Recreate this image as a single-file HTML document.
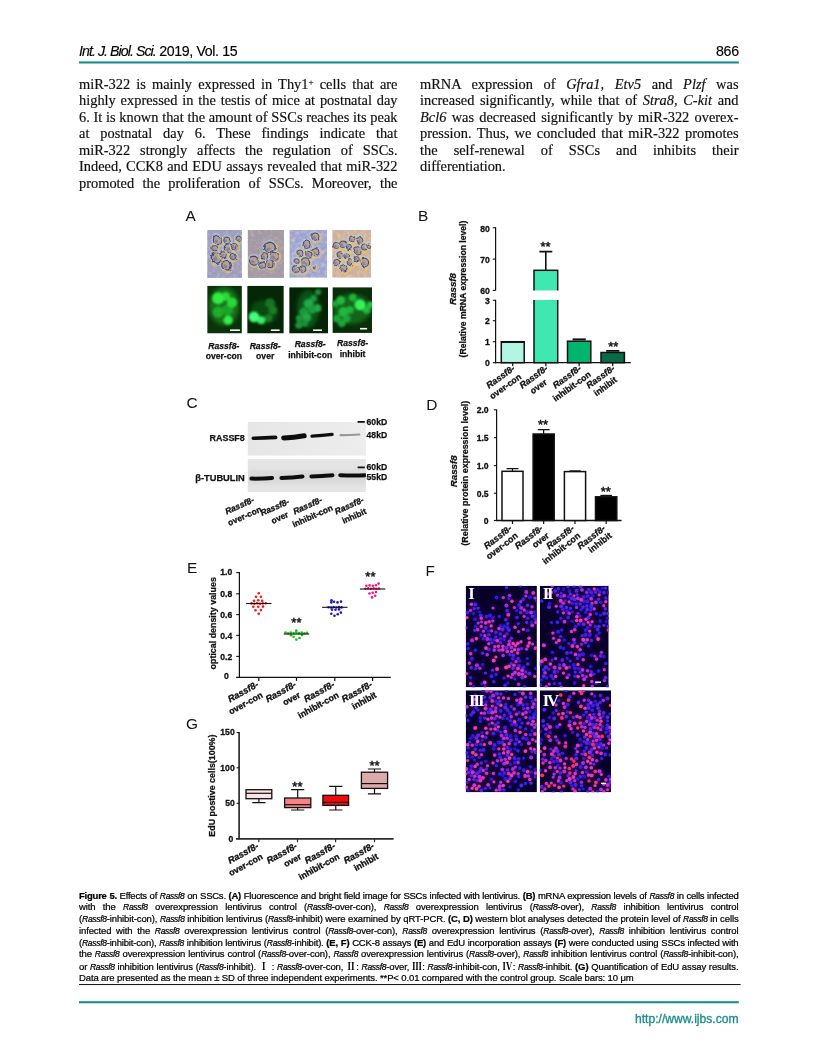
<!DOCTYPE html>
<html lang="en"><head><meta charset="utf-8"><title>Int. J. Biol. Sci. 2019, Vol. 15 - 866</title>
<style>
*{margin:0;padding:0;box-sizing:border-box}
html,body{width:816px;height:1056px;background:#fff;overflow:hidden}
body{position:relative;font-family:"Liberation Serif",serif;color:#111}
.abs{position:absolute}
.hdr{font-family:"Liberation Sans",sans-serif;font-size:14.2px;line-height:16px;color:#000;white-space:nowrap;-webkit-text-stroke:0.15px #000}
#hdrL{letter-spacing:-0.38px}
#hdrL i{letter-spacing:-0.95px}
#hdrR{letter-spacing:-0.3px}
.rule{position:absolute;left:79px;width:660px;height:2px;background:#188d8a}
.col{position:absolute;width:318.5px;font-size:14.4px;line-height:16.55px;color:#111;-webkit-text-stroke:0.18px #111}
.col div{text-align:justify;text-align-last:justify;white-space:nowrap;height:16.55px}
.col div.last{text-align-last:left}
.col sup{font-size:9px;line-height:0;vertical-align:4px}
.cap{position:absolute;left:79px;top:889.5px;width:659.5px;font-family:"Liberation Sans","Noto Serif CJK SC",sans-serif;font-size:9.5px;line-height:11.8px;color:#000;-webkit-text-stroke:0.22px #000}
.cap div{text-align:justify;text-align-last:justify;white-space:nowrap;height:11.8px;letter-spacing:-0.12px}
.cap div.last{text-align-last:left}
.cap b{font-weight:bold}
.cap i{font-size:8.5px;letter-spacing:-0.3px}
.cap .rn{font-family:"Noto Serif CJK SC","Liberation Serif",serif;font-size:10px;font-weight:bold;-webkit-text-stroke:0}
.url{font-family:"Liberation Sans",sans-serif;font-size:12.1px;color:#188d8a;white-space:nowrap;text-align:right;-webkit-text-stroke:0.3px #188d8a}
svg text{font-family:"Liberation Sans",sans-serif}
</style></head>
<body>
<div class="abs hdr" id="hdrL" style="left:79px;top:43px"><i>Int. J. Biol. Sci.</i> 2019, Vol. 15</div>
<div class="abs hdr" id="hdrR" style="right:77.2px;top:43px">866</div>
<div class="col" style="left:79px;top:75.5px">
<div>miR-322 is mainly expressed in Thy1<sup>+</sup> cells that are</div>
<div>highly expressed in the testis of mice at postnatal day</div>
<div>6. It is known that the amount of SSCs reaches its peak</div>
<div>at postnatal day 6. These findings indicate that</div>
<div>miR-322 strongly affects the regulation of SSCs.</div>
<div>Indeed, CCK8 and EDU assays revealed that miR-322</div>
<div>promoted the proliferation of SSCs. Moreover, the</div>
</div>
<div class="col" style="left:420px;top:75.5px">
<div>mRNA expression of <i>Gfra1, Etv5</i> and <i>Plzf</i> was</div>
<div>increased significantly, while that of <i>Stra8, C-kit</i> and</div>
<div><i>Bcl6</i> was decreased significantly by miR-322 overex-</div>
<div>pression. Thus, we concluded that miR-322 promotes</div>
<div>the self-renewal of SSCs and inhibits their</div>
<div class="last">differentiation.</div>
</div>
<div class="cap">
<div style="letter-spacing:-0.23px"><b>Figure 5.</b> Effects of <i>Rassf8</i> on SSCs. <b>(A)</b> Fluorescence and bright field image for SSCs infected with lentivirus. <b>(B)</b> mRNA expression levels of <i>Rassf8</i> in cells infected</div>
<div>with the <i>Rassf8</i> overexpression lentivirus control (<i>Rassf8</i>-over-con), <i>Rassf8</i> overexpression lentivirus (<i>Rassf8</i>-over), <i>Rassf8</i> inhibition lentivirus control</div>
<div>(<i>Rassf8</i>-inhibit-con), <i>Rassf8</i> inhibition lentivirus (<i>Rassf8</i>-inhibit) were examined by qRT-PCR. <b>(C, D)</b> western blot analyses detected the protein level of <i>Rassf8</i> in cells</div>
<div>infected with the <i>Rassf8</i> overexpression lentivirus control (<i>Rassf8</i>-over-con), <i>Rassf8</i> overexpression lentivirus (<i>Rassf8</i>-over), <i>Rassf8</i> inhibition lentivirus control</div>
<div style="letter-spacing:-0.17px">(<i>Rassf8</i>-inhibit-con), <i>Rassf8</i> inhibition lentivirus (<i>Rassf8</i>-inhibit). <b>(E, F)</b> CCK-8 assays <b>(E)</b> and EdU incorporation assays <b>(F)</b> were conducted using SSCs infected with</div>
<div>the <i>Rassf8</i> overexpression lentivirus control (<i>Rassf8</i>-over-con), <i>Rassf8</i> overexpression lentivirus (<i>Rassf8</i>-over), <i>Rassf8</i> inhibition lentivirus control (<i>Rassf8</i>-inhibit-con),</div>
<div>or <i>Rassf8</i> inhibition lentivirus (<i>Rassf8</i>-inhibit). <span class="rn">Ⅰ</span> : <i>Rassf8</i>-over-con, <span class="rn">Ⅱ</span>: <i>Rassf8</i>-over, <span class="rn">Ⅲ</span>: <i>Rassf8</i>-inhibit-con, <span class="rn">Ⅳ</span>: <i>Rassf8</i>-inhibit. <b>(G)</b> Quantification of EdU assay results.</div>
<div class="last">Data are presented as the mean ± SD of three independent experiments. **P&lt; 0.01 compared with the control group. Scale bars: 10 μm</div>
</div>
<div class="abs url" id="url" style="right:77.5px;top:1011px;line-height:16px">http://www.ijbs.com</div>
<svg class="abs" style="left:0;top:0" width="816" height="1056" viewBox="0 0 816 1056">
<g id="defs">
<defs>
<filter id="b04" filterUnits="userSpaceOnUse" x="160" y="200" width="480" height="620"><feGaussianBlur stdDeviation="0.45"/></filter>
<filter id="b07" filterUnits="userSpaceOnUse" x="160" y="200" width="480" height="620"><feGaussianBlur stdDeviation="0.7"/></filter>
<filter id="b12" filterUnits="userSpaceOnUse" x="160" y="200" width="480" height="620"><feGaussianBlur stdDeviation="1.2"/></filter>
<filter id="b20" filterUnits="userSpaceOnUse" x="160" y="200" width="480" height="620"><feGaussianBlur stdDeviation="2"/></filter>
<filter id="grain" x="0" y="0" width="100%" height="100%"><feTurbulence type="fractalNoise" baseFrequency="0.28" numOctaves="3" seed="4" result="n"/><feColorMatrix in="n" type="matrix" values="0 0 0 0 0.3  0 0 0 0 0.3  0 0 0 0 0.62  1.7 1.3 0 0 -1.12"/><feComposite operator="in" in2="SourceGraphic"/></filter>
<filter id="grainw" x="0" y="0" width="100%" height="100%"><feTurbulence type="fractalNoise" baseFrequency="0.24" numOctaves="3" seed="9" result="n"/><feColorMatrix in="n" type="matrix" values="0 0 0 0 0.84  0 0 0 0 0.72  0 0 0 0 0.56  0 1.1 0.9 0 -0.95"/><feComposite operator="in" in2="SourceGraphic"/></filter>
<filter id="org" filterUnits="userSpaceOnUse" x="160" y="200" width="480" height="620"><feTurbulence type="fractalNoise" baseFrequency="0.16" numOctaves="2" seed="3" result="t"/><feDisplacementMap in="SourceGraphic" in2="t" scale="3.2" xChannelSelector="R" yChannelSelector="G"/><feGaussianBlur stdDeviation="0.6"/></filter>
</defs>
</g>
<g id="panelA">
<text x="185.6" y="220.9" font-size="15.4" fill="#111">A</text>
<clipPath id="ca0"><rect x="207.2" y="230" width="34.7" height="47.9"/></clipPath>
<g clip-path="url(#ca0)">
<rect x="207.2" y="230" width="34.7" height="47.9" fill="#a2a3ba"/>
<rect x="207.2" y="230" width="34.7" height="47.9" fill="#5a58a8" filter="url(#grain)" opacity="0.75"/>
<rect x="207.2" y="230" width="34.7" height="47.9" fill="#e8c070" filter="url(#grainw)" opacity="0.55"/>
<g filter="url(#org)"><circle cx="218.4" cy="241.4" r="5.3" fill="none" stroke="#ecc45a" stroke-width="1.5" opacity="0.7"/><circle cx="216.9" cy="239.6" r="5.2" fill="none" stroke="#a9dcee" stroke-width="1.0" opacity="0.6"/><circle cx="217.6" cy="240.4" r="4.2" fill="#ada19c" stroke="#45417f" stroke-width="1.06"/><circle cx="216.5" cy="241.28" r="1.76" fill="#5f5688" opacity="0.4"/><circle cx="218.7" cy="239.74" r="1.45" fill="#c8a772" opacity="0.6"/><circle cx="227.8" cy="241.4" r="4.4" fill="none" stroke="#ecc45a" stroke-width="1.5" opacity="0.7"/><circle cx="226.3" cy="239.6" r="4.3" fill="none" stroke="#a9dcee" stroke-width="1.0" opacity="0.6"/><circle cx="227" cy="240.4" r="3.3" fill="#ada19c" stroke="#45417f" stroke-width="0.9"/><circle cx="226.12" cy="241.1" r="1.4" fill="#5f5688" opacity="0.4"/><circle cx="227.88" cy="239.88" r="1.16" fill="#c8a772" opacity="0.6"/><circle cx="229.5" cy="249.2" r="5.5" fill="none" stroke="#ecc45a" stroke-width="1.5" opacity="0.7"/><circle cx="228" cy="247.4" r="5.4" fill="none" stroke="#a9dcee" stroke-width="1.0" opacity="0.6"/><circle cx="228.7" cy="248.2" r="4.4" fill="#ada19c" stroke="#45417f" stroke-width="1.1"/><circle cx="227.55" cy="249.12" r="1.84" fill="#5f5688" opacity="0.4"/><circle cx="229.85" cy="247.51" r="1.52" fill="#c8a772" opacity="0.6"/><circle cx="217.3" cy="259" r="6.4" fill="none" stroke="#ecc45a" stroke-width="1.5" opacity="0.7"/><circle cx="215.8" cy="257.2" r="6.3" fill="none" stroke="#a9dcee" stroke-width="1.0" opacity="0.6"/><circle cx="216.5" cy="258" r="5.3" fill="#ada19c" stroke="#45417f" stroke-width="1.32"/><circle cx="215.12" cy="259.1" r="2.2" fill="#5f5688" opacity="0.4"/><circle cx="217.88" cy="257.18" r="1.82" fill="#c8a772" opacity="0.6"/><circle cx="227.3" cy="266.2" r="5.9" fill="none" stroke="#ecc45a" stroke-width="1.5" opacity="0.7"/><circle cx="225.8" cy="264.4" r="5.8" fill="none" stroke="#a9dcee" stroke-width="1.0" opacity="0.6"/><circle cx="226.5" cy="265.2" r="4.8" fill="#ada19c" stroke="#45417f" stroke-width="1.2"/><circle cx="225.25" cy="266.2" r="2" fill="#5f5688" opacity="0.4"/><circle cx="227.75" cy="264.45" r="1.65" fill="#c8a772" opacity="0.6"/><circle cx="235" cy="247.5" r="4.2" fill="none" stroke="#ecc45a" stroke-width="1.5" opacity="0.7"/><circle cx="233.5" cy="245.7" r="4.1" fill="none" stroke="#a9dcee" stroke-width="1.0" opacity="0.6"/><circle cx="234.2" cy="246.5" r="3.1" fill="#ada19c" stroke="#45417f" stroke-width="0.9"/><circle cx="233.38" cy="247.16" r="1.32" fill="#5f5688" opacity="0.4"/><circle cx="235.02" cy="246" r="1.09" fill="#c8a772" opacity="0.6"/><circle cx="233.8" cy="257.4" r="4.2" fill="none" stroke="#ecc45a" stroke-width="1.5" opacity="0.7"/><circle cx="232.3" cy="255.6" r="4.1" fill="none" stroke="#a9dcee" stroke-width="1.0" opacity="0.6"/><circle cx="233" cy="256.4" r="3.1" fill="#ada19c" stroke="#45417f" stroke-width="0.9"/><circle cx="232.18" cy="257.06" r="1.32" fill="#5f5688" opacity="0.4"/><circle cx="233.82" cy="255.9" r="1.09" fill="#c8a772" opacity="0.6"/><circle cx="239.4" cy="239.8" r="3.7" fill="none" stroke="#ecc45a" stroke-width="1.5" opacity="0.7"/><circle cx="237.9" cy="238" r="3.6" fill="none" stroke="#a9dcee" stroke-width="1.0" opacity="0.6"/><circle cx="238.6" cy="238.8" r="2.6" fill="#ada19c" stroke="#45417f" stroke-width="0.9"/><circle cx="237.9" cy="239.36" r="1.12" fill="#5f5688" opacity="0.4"/><circle cx="239.3" cy="238.38" r="0.92" fill="#c8a772" opacity="0.6"/><circle cx="215.1" cy="249.2" r="3.7" fill="none" stroke="#ecc45a" stroke-width="1.5" opacity="0.7"/><circle cx="213.6" cy="247.4" r="3.6" fill="none" stroke="#a9dcee" stroke-width="1.0" opacity="0.6"/><circle cx="214.3" cy="248.2" r="2.6" fill="#ada19c" stroke="#45417f" stroke-width="0.9"/><circle cx="213.6" cy="248.76" r="1.12" fill="#5f5688" opacity="0.4"/><circle cx="215" cy="247.78" r="0.92" fill="#c8a772" opacity="0.6"/><circle cx="224" cy="255.8" r="4.2" fill="none" stroke="#ecc45a" stroke-width="1.5" opacity="0.7"/><circle cx="222.5" cy="254" r="4.1" fill="none" stroke="#a9dcee" stroke-width="1.0" opacity="0.6"/><circle cx="223.2" cy="254.8" r="3.1" fill="#ada19c" stroke="#45417f" stroke-width="0.9"/><circle cx="222.38" cy="255.46" r="1.32" fill="#5f5688" opacity="0.4"/><circle cx="224.02" cy="254.31" r="1.09" fill="#c8a772" opacity="0.6"/></g>
</g>
<clipPath id="ca1"><rect x="247.6" y="230" width="36.4" height="47.9"/></clipPath>
<g clip-path="url(#ca1)">
<rect x="247.6" y="230" width="36.4" height="47.9" fill="#a79c9f"/>
<rect x="247.6" y="230" width="36.4" height="47.9" fill="#5a58a8" filter="url(#grain)" opacity="0.4"/>
<rect x="247.6" y="230" width="36.4" height="47.9" fill="#e8c070" filter="url(#grainw)" opacity="0.5"/>
<g filter="url(#org)"><circle cx="270.8" cy="248.6" r="6.4" fill="none" stroke="#ecc45a" stroke-width="1.5" opacity="0.7"/><circle cx="269.3" cy="246.8" r="6.3" fill="none" stroke="#a9dcee" stroke-width="1.0" opacity="0.6"/><circle cx="270" cy="247.6" r="5.3" fill="#ada19c" stroke="#45417f" stroke-width="1.32"/><circle cx="268.62" cy="248.7" r="2.2" fill="#5f5688" opacity="0.4"/><circle cx="271.38" cy="246.78" r="1.82" fill="#c8a772" opacity="0.6"/><circle cx="265.3" cy="256.9" r="4.4" fill="none" stroke="#ecc45a" stroke-width="1.5" opacity="0.7"/><circle cx="263.8" cy="255.1" r="4.3" fill="none" stroke="#a9dcee" stroke-width="1.0" opacity="0.6"/><circle cx="264.5" cy="255.9" r="3.3" fill="#ada19c" stroke="#45417f" stroke-width="0.9"/><circle cx="263.62" cy="256.6" r="1.4" fill="#5f5688" opacity="0.4"/><circle cx="265.38" cy="255.38" r="1.16" fill="#c8a772" opacity="0.6"/><circle cx="254.8" cy="261.8" r="5.5" fill="none" stroke="#ecc45a" stroke-width="1.5" opacity="0.7"/><circle cx="253.3" cy="260" r="5.4" fill="none" stroke="#a9dcee" stroke-width="1.0" opacity="0.6"/><circle cx="254" cy="260.8" r="4.4" fill="#ada19c" stroke="#45417f" stroke-width="1.1"/><circle cx="252.85" cy="261.72" r="1.84" fill="#5f5688" opacity="0.4"/><circle cx="255.15" cy="260.11" r="1.52" fill="#c8a772" opacity="0.6"/><circle cx="275.2" cy="257.4" r="5.1" fill="none" stroke="#ecc45a" stroke-width="1.5" opacity="0.7"/><circle cx="273.7" cy="255.6" r="5" fill="none" stroke="#a9dcee" stroke-width="1.0" opacity="0.6"/><circle cx="274.4" cy="256.4" r="4" fill="#ada19c" stroke="#45417f" stroke-width="1.01"/><circle cx="273.35" cy="257.24" r="1.68" fill="#5f5688" opacity="0.4"/><circle cx="275.45" cy="255.77" r="1.39" fill="#c8a772" opacity="0.6"/><circle cx="270.8" cy="264.6" r="5.1" fill="none" stroke="#ecc45a" stroke-width="1.5" opacity="0.7"/><circle cx="269.3" cy="262.8" r="5" fill="none" stroke="#a9dcee" stroke-width="1.0" opacity="0.6"/><circle cx="270" cy="263.6" r="4" fill="#ada19c" stroke="#45417f" stroke-width="1.01"/><circle cx="268.95" cy="264.44" r="1.68" fill="#5f5688" opacity="0.4"/><circle cx="271.05" cy="262.97" r="1.39" fill="#c8a772" opacity="0.6"/><circle cx="262.5" cy="266.2" r="4.2" fill="none" stroke="#ecc45a" stroke-width="1.5" opacity="0.7"/><circle cx="261" cy="264.4" r="4.1" fill="none" stroke="#a9dcee" stroke-width="1.0" opacity="0.6"/><circle cx="261.7" cy="265.2" r="3.1" fill="#ada19c" stroke="#45417f" stroke-width="0.9"/><circle cx="260.88" cy="265.86" r="1.32" fill="#5f5688" opacity="0.4"/><circle cx="262.52" cy="264.7" r="1.09" fill="#c8a772" opacity="0.6"/></g>
</g>
<clipPath id="ca2"><rect x="289.4" y="230" width="37.7" height="47.7"/></clipPath>
<g clip-path="url(#ca2)">
<rect x="289.4" y="230" width="37.7" height="47.7" fill="#a8b0d4"/>
<rect x="289.4" y="230" width="37.7" height="47.7" fill="#5a58a8" filter="url(#grain)" opacity="0.8"/>
<rect x="289.4" y="230" width="37.7" height="47.7" fill="#e8c070" filter="url(#grainw)" opacity="0.75"/>
<g filter="url(#org)"><circle cx="316.1" cy="237.6" r="4.8" fill="none" stroke="#ecc45a" stroke-width="1.5" opacity="0.7"/><circle cx="314.6" cy="235.8" r="4.7" fill="none" stroke="#a9dcee" stroke-width="1.0" opacity="0.6"/><circle cx="315.3" cy="236.6" r="3.7" fill="#ada19c" stroke="#45417f" stroke-width="0.94"/><circle cx="314.32" cy="237.38" r="1.56" fill="#5f5688" opacity="0.4"/><circle cx="316.28" cy="236.01" r="1.29" fill="#c8a772" opacity="0.6"/><circle cx="307.3" cy="245.8" r="4.8" fill="none" stroke="#ecc45a" stroke-width="1.5" opacity="0.7"/><circle cx="305.8" cy="244" r="4.7" fill="none" stroke="#a9dcee" stroke-width="1.0" opacity="0.6"/><circle cx="306.5" cy="244.8" r="3.7" fill="#ada19c" stroke="#45417f" stroke-width="0.94"/><circle cx="305.52" cy="245.58" r="1.56" fill="#5f5688" opacity="0.4"/><circle cx="307.48" cy="244.22" r="1.29" fill="#c8a772" opacity="0.6"/><circle cx="316.1" cy="253" r="4.8" fill="none" stroke="#ecc45a" stroke-width="1.5" opacity="0.7"/><circle cx="314.6" cy="251.2" r="4.7" fill="none" stroke="#a9dcee" stroke-width="1.0" opacity="0.6"/><circle cx="315.3" cy="252" r="3.7" fill="#ada19c" stroke="#45417f" stroke-width="0.94"/><circle cx="314.32" cy="252.78" r="1.56" fill="#5f5688" opacity="0.4"/><circle cx="316.28" cy="251.41" r="1.29" fill="#c8a772" opacity="0.6"/><circle cx="300.7" cy="254.1" r="4.2" fill="none" stroke="#ecc45a" stroke-width="1.5" opacity="0.7"/><circle cx="299.2" cy="252.3" r="4.1" fill="none" stroke="#a9dcee" stroke-width="1.0" opacity="0.6"/><circle cx="299.9" cy="253.1" r="3.1" fill="#ada19c" stroke="#45417f" stroke-width="0.9"/><circle cx="299.07" cy="253.76" r="1.32" fill="#5f5688" opacity="0.4"/><circle cx="300.72" cy="252.6" r="1.09" fill="#c8a772" opacity="0.6"/><circle cx="309.5" cy="255.2" r="4.2" fill="none" stroke="#ecc45a" stroke-width="1.5" opacity="0.7"/><circle cx="308" cy="253.4" r="4.1" fill="none" stroke="#a9dcee" stroke-width="1.0" opacity="0.6"/><circle cx="308.7" cy="254.2" r="3.1" fill="#ada19c" stroke="#45417f" stroke-width="0.9"/><circle cx="307.88" cy="254.86" r="1.32" fill="#5f5688" opacity="0.4"/><circle cx="309.52" cy="253.7" r="1.09" fill="#c8a772" opacity="0.6"/><circle cx="306.2" cy="262.9" r="5.3" fill="none" stroke="#ecc45a" stroke-width="1.5" opacity="0.7"/><circle cx="304.7" cy="261.1" r="5.2" fill="none" stroke="#a9dcee" stroke-width="1.0" opacity="0.6"/><circle cx="305.4" cy="261.9" r="4.2" fill="#ada19c" stroke="#45417f" stroke-width="1.06"/><circle cx="304.3" cy="262.78" r="1.76" fill="#5f5688" opacity="0.4"/><circle cx="306.5" cy="261.24" r="1.45" fill="#c8a772" opacity="0.6"/><circle cx="297.4" cy="262.4" r="3.7" fill="none" stroke="#ecc45a" stroke-width="1.5" opacity="0.7"/><circle cx="295.9" cy="260.6" r="3.6" fill="none" stroke="#a9dcee" stroke-width="1.0" opacity="0.6"/><circle cx="296.6" cy="261.4" r="2.6" fill="#ada19c" stroke="#45417f" stroke-width="0.9"/><circle cx="295.9" cy="261.96" r="1.12" fill="#5f5688" opacity="0.4"/><circle cx="297.3" cy="260.98" r="0.92" fill="#c8a772" opacity="0.6"/><circle cx="296.3" cy="270.1" r="4.4" fill="none" stroke="#ecc45a" stroke-width="1.5" opacity="0.7"/><circle cx="294.8" cy="268.3" r="4.3" fill="none" stroke="#a9dcee" stroke-width="1.0" opacity="0.6"/><circle cx="295.5" cy="269.1" r="3.3" fill="#ada19c" stroke="#45417f" stroke-width="0.9"/><circle cx="294.62" cy="269.8" r="1.4" fill="#5f5688" opacity="0.4"/><circle cx="296.38" cy="268.58" r="1.16" fill="#c8a772" opacity="0.6"/><circle cx="303.4" cy="270.1" r="4.4" fill="none" stroke="#ecc45a" stroke-width="1.5" opacity="0.7"/><circle cx="301.9" cy="268.3" r="4.3" fill="none" stroke="#a9dcee" stroke-width="1.0" opacity="0.6"/><circle cx="302.6" cy="269.1" r="3.3" fill="#ada19c" stroke="#45417f" stroke-width="0.9"/><circle cx="301.73" cy="269.8" r="1.4" fill="#5f5688" opacity="0.4"/><circle cx="303.48" cy="268.58" r="1.16" fill="#c8a772" opacity="0.6"/><circle cx="315" cy="269" r="2.1" fill="none" stroke="#ecc45a" stroke-width="1.5" opacity="0.7"/><circle cx="313.5" cy="267.2" r="2" fill="none" stroke="#a9dcee" stroke-width="1.0" opacity="0.6"/><circle cx="314.2" cy="268" r="1" fill="#ada19c" stroke="#45417f" stroke-width="0.9"/><circle cx="313.9" cy="268.24" r="0.48" fill="#5f5688" opacity="0.4"/><circle cx="314.5" cy="267.82" r="0.4" fill="#c8a772" opacity="0.6"/></g>
</g>
<clipPath id="ca3"><rect x="332.2" y="230" width="38.8" height="47.7"/></clipPath>
<g clip-path="url(#ca3)">
<rect x="332.2" y="230" width="38.8" height="47.7" fill="#d8b698"/>
<rect x="332.2" y="230" width="38.8" height="47.7" fill="#5a58a8" filter="url(#grain)" opacity="0.3"/>
<rect x="332.2" y="230" width="38.8" height="47.7" fill="#e8c070" filter="url(#grainw)" opacity="0.9"/>
<g filter="url(#org)"><circle cx="337.1" cy="246.4" r="4.2" fill="none" stroke="#ecc45a" stroke-width="1.5" opacity="0.7"/><circle cx="335.6" cy="244.6" r="4.1" fill="none" stroke="#a9dcee" stroke-width="1.0" opacity="0.6"/><circle cx="336.3" cy="245.4" r="3.1" fill="#ada19c" stroke="#45417f" stroke-width="0.9"/><circle cx="335.48" cy="246.06" r="1.32" fill="#5f5688" opacity="0.4"/><circle cx="337.12" cy="244.91" r="1.09" fill="#c8a772" opacity="0.6"/><circle cx="343.7" cy="245.3" r="4.4" fill="none" stroke="#ecc45a" stroke-width="1.5" opacity="0.7"/><circle cx="342.2" cy="243.5" r="4.3" fill="none" stroke="#a9dcee" stroke-width="1.0" opacity="0.6"/><circle cx="342.9" cy="244.3" r="3.3" fill="#ada19c" stroke="#45417f" stroke-width="0.9"/><circle cx="342.02" cy="245" r="1.4" fill="#5f5688" opacity="0.4"/><circle cx="343.77" cy="243.78" r="1.16" fill="#c8a772" opacity="0.6"/><circle cx="353.1" cy="239.8" r="4" fill="none" stroke="#ecc45a" stroke-width="1.5" opacity="0.7"/><circle cx="351.6" cy="238" r="3.9" fill="none" stroke="#a9dcee" stroke-width="1.0" opacity="0.6"/><circle cx="352.3" cy="238.8" r="2.9" fill="#ada19c" stroke="#45417f" stroke-width="0.9"/><circle cx="351.53" cy="239.42" r="1.24" fill="#5f5688" opacity="0.4"/><circle cx="353.07" cy="238.34" r="1.02" fill="#c8a772" opacity="0.6"/><circle cx="360.8" cy="241.4" r="4" fill="none" stroke="#ecc45a" stroke-width="1.5" opacity="0.7"/><circle cx="359.3" cy="239.6" r="3.9" fill="none" stroke="#a9dcee" stroke-width="1.0" opacity="0.6"/><circle cx="360" cy="240.4" r="2.9" fill="#ada19c" stroke="#45417f" stroke-width="0.9"/><circle cx="359.23" cy="241.02" r="1.24" fill="#5f5688" opacity="0.4"/><circle cx="360.77" cy="239.94" r="1.02" fill="#c8a772" opacity="0.6"/><circle cx="349.8" cy="248" r="3.7" fill="none" stroke="#ecc45a" stroke-width="1.5" opacity="0.7"/><circle cx="348.3" cy="246.2" r="3.6" fill="none" stroke="#a9dcee" stroke-width="1.0" opacity="0.6"/><circle cx="349" cy="247" r="2.6" fill="#ada19c" stroke="#45417f" stroke-width="0.9"/><circle cx="348.3" cy="247.56" r="1.12" fill="#5f5688" opacity="0.4"/><circle cx="349.7" cy="246.58" r="0.92" fill="#c8a772" opacity="0.6"/><circle cx="358.6" cy="251.4" r="4.8" fill="none" stroke="#ecc45a" stroke-width="1.5" opacity="0.7"/><circle cx="357.1" cy="249.6" r="4.7" fill="none" stroke="#a9dcee" stroke-width="1.0" opacity="0.6"/><circle cx="357.8" cy="250.4" r="3.7" fill="#ada19c" stroke="#45417f" stroke-width="0.94"/><circle cx="356.82" cy="251.18" r="1.56" fill="#5f5688" opacity="0.4"/><circle cx="358.78" cy="249.81" r="1.29" fill="#c8a772" opacity="0.6"/><circle cx="365.2" cy="248" r="4.2" fill="none" stroke="#ecc45a" stroke-width="1.5" opacity="0.7"/><circle cx="363.7" cy="246.2" r="4.1" fill="none" stroke="#a9dcee" stroke-width="1.0" opacity="0.6"/><circle cx="364.4" cy="247" r="3.1" fill="#ada19c" stroke="#45417f" stroke-width="0.9"/><circle cx="363.57" cy="247.66" r="1.32" fill="#5f5688" opacity="0.4"/><circle cx="365.22" cy="246.5" r="1.09" fill="#c8a772" opacity="0.6"/><circle cx="340.9" cy="255.8" r="4.2" fill="none" stroke="#ecc45a" stroke-width="1.5" opacity="0.7"/><circle cx="339.4" cy="254" r="4.1" fill="none" stroke="#a9dcee" stroke-width="1.0" opacity="0.6"/><circle cx="340.1" cy="254.8" r="3.1" fill="#ada19c" stroke="#45417f" stroke-width="0.9"/><circle cx="339.28" cy="255.46" r="1.32" fill="#5f5688" opacity="0.4"/><circle cx="340.93" cy="254.31" r="1.09" fill="#c8a772" opacity="0.6"/><circle cx="347.5" cy="256.9" r="4" fill="none" stroke="#ecc45a" stroke-width="1.5" opacity="0.7"/><circle cx="346" cy="255.1" r="3.9" fill="none" stroke="#a9dcee" stroke-width="1.0" opacity="0.6"/><circle cx="346.7" cy="255.9" r="2.9" fill="#ada19c" stroke="#45417f" stroke-width="0.9"/><circle cx="345.93" cy="256.52" r="1.24" fill="#5f5688" opacity="0.4"/><circle cx="347.47" cy="255.44" r="1.02" fill="#c8a772" opacity="0.6"/><circle cx="337.6" cy="263.5" r="4.2" fill="none" stroke="#ecc45a" stroke-width="1.5" opacity="0.7"/><circle cx="336.1" cy="261.7" r="4.1" fill="none" stroke="#a9dcee" stroke-width="1.0" opacity="0.6"/><circle cx="336.8" cy="262.5" r="3.1" fill="#ada19c" stroke="#45417f" stroke-width="0.9"/><circle cx="335.98" cy="263.16" r="1.32" fill="#5f5688" opacity="0.4"/><circle cx="337.62" cy="262" r="1.09" fill="#c8a772" opacity="0.6"/><circle cx="350.8" cy="263.5" r="4" fill="none" stroke="#ecc45a" stroke-width="1.5" opacity="0.7"/><circle cx="349.3" cy="261.7" r="3.9" fill="none" stroke="#a9dcee" stroke-width="1.0" opacity="0.6"/><circle cx="350" cy="262.5" r="2.9" fill="#ada19c" stroke="#45417f" stroke-width="0.9"/><circle cx="349.23" cy="263.12" r="1.24" fill="#5f5688" opacity="0.4"/><circle cx="350.77" cy="262.04" r="1.02" fill="#c8a772" opacity="0.6"/><circle cx="344.2" cy="269.5" r="4.8" fill="none" stroke="#ecc45a" stroke-width="1.5" opacity="0.7"/><circle cx="342.7" cy="267.7" r="4.7" fill="none" stroke="#a9dcee" stroke-width="1.0" opacity="0.6"/><circle cx="343.4" cy="268.5" r="3.7" fill="#ada19c" stroke="#45417f" stroke-width="0.94"/><circle cx="342.42" cy="269.28" r="1.56" fill="#5f5688" opacity="0.4"/><circle cx="344.38" cy="267.92" r="1.29" fill="#c8a772" opacity="0.6"/><circle cx="365.2" cy="263.5" r="5.3" fill="none" stroke="#ecc45a" stroke-width="1.5" opacity="0.7"/><circle cx="363.7" cy="261.7" r="5.2" fill="none" stroke="#a9dcee" stroke-width="1.0" opacity="0.6"/><circle cx="364.4" cy="262.5" r="4.2" fill="#ada19c" stroke="#45417f" stroke-width="1.06"/><circle cx="363.3" cy="263.38" r="1.76" fill="#5f5688" opacity="0.4"/><circle cx="365.5" cy="261.84" r="1.45" fill="#c8a772" opacity="0.6"/><circle cx="357.5" cy="260.2" r="3.7" fill="none" stroke="#ecc45a" stroke-width="1.5" opacity="0.7"/><circle cx="356" cy="258.4" r="3.6" fill="none" stroke="#a9dcee" stroke-width="1.0" opacity="0.6"/><circle cx="356.7" cy="259.2" r="2.6" fill="#ada19c" stroke="#45417f" stroke-width="0.9"/><circle cx="356" cy="259.76" r="1.12" fill="#5f5688" opacity="0.4"/><circle cx="357.4" cy="258.78" r="0.92" fill="#c8a772" opacity="0.6"/><circle cx="369.6" cy="247" r="3.1" fill="none" stroke="#ecc45a" stroke-width="1.5" opacity="0.7"/><circle cx="368.1" cy="245.2" r="3" fill="none" stroke="#a9dcee" stroke-width="1.0" opacity="0.6"/><circle cx="368.8" cy="246" r="2" fill="#ada19c" stroke="#45417f" stroke-width="0.9"/><circle cx="368.25" cy="246.44" r="0.88" fill="#5f5688" opacity="0.4"/><circle cx="369.35" cy="245.67" r="0.73" fill="#c8a772" opacity="0.6"/></g>
</g>
<clipPath id="cg0"><rect x="207.2" y="285.7" width="34.7" height="47.8"/></clipPath>
<g clip-path="url(#cg0)">
<rect x="207.2" y="285.7" width="34.7" height="47.8" fill="#0b330b"/>
<ellipse cx="224" cy="306" rx="15" ry="19" fill="#1c8a22" opacity="0.75" filter="url(#b20)"/>
<g filter="url(#b12)"><circle cx="218.2" cy="312" r="5.5" fill="#22ac2c"/><circle cx="227.6" cy="309.8" r="5.5" fill="#1fa428"/><circle cx="225.9" cy="296.5" r="4.4" fill="#2bd83a"/><circle cx="232" cy="302.6" r="5" fill="#2ad83a"/><circle cx="218.2" cy="298.2" r="6" fill="#33ec44"/><circle cx="228.1" cy="320.2" r="4.6" fill="#35ee46"/></g>
<rect x="230" y="329.4" width="9.9" height="1.6" fill="#fff"/>
</g>
<clipPath id="cg1"><rect x="247.2" y="285.7" width="36.6" height="47.8"/></clipPath>
<g clip-path="url(#cg1)">
<rect x="247.2" y="285.7" width="36.6" height="47.8" fill="#062706"/>
<ellipse cx="264" cy="312" rx="14" ry="12" fill="#0f5a16" opacity="0.7" filter="url(#b20)"/>
<g filter="url(#b12)"><circle cx="270" cy="303.2" r="5" fill="#187424"/><circle cx="272.8" cy="310.3" r="4.2" fill="#1a7c26"/><circle cx="268.4" cy="318" r="3.9" fill="#1b7a24"/><circle cx="261.2" cy="320.2" r="3.9" fill="#3aec62"/><circle cx="254" cy="316.9" r="5.3" fill="#44fa7c"/></g>
<rect x="270.8" y="329.4" width="8.8" height="1.6" fill="#fff"/>
</g>
<clipPath id="cg2"><rect x="289.2" y="287.2" width="38.8" height="46.3"/></clipPath>
<g clip-path="url(#cg2)">
<rect x="289.2" y="287.2" width="38.8" height="46.3" fill="#052405"/>
<ellipse cx="308" cy="309" rx="11" ry="19" fill="#116a22" opacity="0.7" filter="url(#b20)"/>
<g filter="url(#b12)"><circle cx="318.1" cy="292.1" r="3.1" fill="#1c8e38"/><circle cx="313.7" cy="298.2" r="3.3" fill="#1e9a3c"/><circle cx="308.7" cy="303.7" r="5" fill="#22a844"/><circle cx="317.5" cy="308.1" r="3.9" fill="#22a844"/><circle cx="312" cy="309.8" r="3.9" fill="#1f9c3e"/><circle cx="303.7" cy="312" r="4.4" fill="#1f9c3e"/><circle cx="307" cy="317.5" r="4.4" fill="#22a844"/><circle cx="299.3" cy="318.6" r="3.5" fill="#1e963a"/><circle cx="298.8" cy="325.2" r="3.5" fill="#1e963a"/><circle cx="304.8" cy="323.5" r="3.3" fill="#1c8e38"/></g>
<rect x="313.1" y="329.4" width="8.8" height="1.6" fill="#fff"/>
</g>
<clipPath id="cg3"><rect x="332.4" y="287.2" width="39.7" height="45.7"/></clipPath>
<g clip-path="url(#cg3)">
<rect x="332.4" y="287.2" width="39.7" height="45.7" fill="#0a2e0a"/>
<ellipse cx="352" cy="309" rx="19" ry="15" fill="#157a22" opacity="0.75" filter="url(#b20)"/>
<g filter="url(#b12)"><circle cx="340.7" cy="300.4" r="4.4" fill="#24b83e"/><circle cx="352.8" cy="297.6" r="3.9" fill="#22b03a"/><circle cx="366.6" cy="309.8" r="3.9" fill="#24b83e"/><circle cx="343.4" cy="312" r="5" fill="#24b83e"/><circle cx="350" cy="309.8" r="3.9" fill="#22b03a"/><circle cx="336.8" cy="318.6" r="3.9" fill="#1fa636"/><circle cx="346.7" cy="318.6" r="3.9" fill="#1fa636"/><circle cx="341.8" cy="323" r="3.9" fill="#1fa636"/><circle cx="370.4" cy="304.8" r="3.3" fill="#27c242"/><circle cx="335.2" cy="303.7" r="3.3" fill="#1fa636"/><circle cx="360" cy="304.8" r="5.5" fill="#34f254"/></g>
<rect x="360" y="327.9" width="7.1" height="1.6" fill="#fff"/>
</g>
<text text-anchor="middle" font-weight="bold" font-size="8.6" fill="#111" stroke="#111" stroke-width="0.25"><tspan x="223.8" y="349" font-style="italic">Rassf8-</tspan><tspan x="223.8" y="358.9">over-con</tspan></text>
<text text-anchor="middle" font-weight="bold" font-size="8.6" fill="#111" stroke="#111" stroke-width="0.25"><tspan x="265.2" y="349" font-style="italic">Rassf8-</tspan><tspan x="265.2" y="358.9">over</tspan></text>
<text text-anchor="middle" font-weight="bold" font-size="8.6" fill="#111" stroke="#111" stroke-width="0.25"><tspan x="310.2" y="346.6" font-style="italic">Rassf8-</tspan><tspan x="310.2" y="357.6">inhibit-con</tspan></text>
<text text-anchor="middle" font-weight="bold" font-size="8.6" fill="#111" stroke="#111" stroke-width="0.25"><tspan x="352.6" y="346.4" font-style="italic">Rassf8-</tspan><tspan x="352.6" y="357">inhibit</tspan></text>
</g>
<g id="panelC">
<text x="186.4" y="407.6" font-size="15.4" fill="#111">C</text>
<linearGradient id="gc1" x1="0" x2="1" y1="0" y2="0"><stop offset="0" stop-color="#e6e6e6"/><stop offset="1" stop-color="#ededed"/></linearGradient>
<rect x="247.8" y="421.9" width="118.1" height="33.7" fill="url(#gc1)"/>
<rect x="247.8" y="459.1" width="118.1" height="32.9" fill="#e5e5e5"/>
<clipPath id="cc1"><rect x="247.8" y="421.9" width="118.1" height="33.7"/></clipPath><clipPath id="cc2"><rect x="247.8" y="459.1" width="118.1" height="32.9"/></clipPath>
<g clip-path="url(#cc1)"><g filter="url(#b07)">
<path d="M253.28 438.2Q264.45 438.23 275.62 437.4" stroke="#111" stroke-width="3.6" stroke-linecap="round" fill="none" opacity="1"/>
<path d="M283.73 438Q293.95 437.51 304.17 435.8" stroke="#111" stroke-width="5.1" stroke-linecap="round" fill="none" opacity="1"/>
<path d="M311.96 436.2Q322.05 435.68 332.14 434.4" stroke="#111" stroke-width="3.2" stroke-linecap="round" fill="none" opacity="1"/>
<path d="M340.66 435.2Q350 435.11 359.34 434.5" stroke="#8a8a8a" stroke-width="2.2" stroke-linecap="round" fill="none" opacity="0.85"/>
</g></g>
<g clip-path="url(#cc2)"><rect x="247.8" y="470" width="118.1" height="14" fill="#bdbdbd" opacity="0.3" filter="url(#b20)"/><g filter="url(#b07)">
<path d="M251.4 478.6Q261.75 478.78 272.1 478" stroke="#111" stroke-width="4" stroke-linecap="round" fill="none" opacity="1"/>
<path d="M281.4 478Q291.95 477.68 302.5 476.4" stroke="#111" stroke-width="4" stroke-linecap="round" fill="none" opacity="1"/>
<path d="M311.4 476.4Q321.95 476.28 332.5 475.2" stroke="#111" stroke-width="4" stroke-linecap="round" fill="none" opacity="1"/>
<path d="M340.2 475.2Q352.75 475.68 365.3 475.2" stroke="#111" stroke-width="4" stroke-linecap="round" fill="none" opacity="1"/>
</g></g>
<text x="244.8" y="441.2" text-anchor="end" font-size="8.95" font-weight="bold" fill="#111" stroke="#111" stroke-width="0.25">RASSF8</text>
<text x="244.8" y="481.2" text-anchor="end" font-size="9.3" font-weight="bold" fill="#111" stroke="#111" stroke-width="0.25">β-TUBULIN</text>
<rect x="357.6" y="421.0" width="7.2" height="1.8" fill="#111"/>
<rect x="357.6" y="466.5" width="7.2" height="1.8" fill="#111"/>
<text x="366.6" y="424.6" text-anchor="start" font-size="8.6" font-weight="bold" fill="#111" stroke="#111" stroke-width="0.25">60kD</text>
<text x="366.6" y="437.8" text-anchor="start" font-size="8.6" font-weight="bold" fill="#111" stroke="#111" stroke-width="0.25">48kD</text>
<text x="366.6" y="470.3" text-anchor="start" font-size="8.6" font-weight="bold" fill="#111" stroke="#111" stroke-width="0.25">60kD</text>
<text x="366.6" y="479.5" text-anchor="start" font-size="8.6" font-weight="bold" fill="#111" stroke="#111" stroke-width="0.25">55kD</text>
<g transform="translate(253.6,499.4) rotate(-24)"><text text-anchor="middle" font-weight="bold" fill="#111" stroke="#111" stroke-width="0.3"><tspan x="-15.35" y="2.8" font-size="8.5" font-style="italic">Rassf8-</tspan><tspan x="-15" y="14.4" font-size="8.5">over-con</tspan></text></g>
<g transform="translate(288.8,501) rotate(-24)"><text text-anchor="middle" font-weight="bold" fill="#111" stroke="#111" stroke-width="0.3"><tspan x="-15.35" y="2.8" font-size="8.5" font-style="italic">Rassf8-</tspan><tspan x="-15" y="14.4" font-size="8.5">over</tspan></text></g>
<g transform="translate(321.6,499.4) rotate(-24)"><text text-anchor="middle" font-weight="bold" fill="#111" stroke="#111" stroke-width="0.3"><tspan x="-15.35" y="2.8" font-size="8.5" font-style="italic">Rassf8-</tspan><tspan x="-15" y="14.4" font-size="8.5">inhibit-con</tspan></text></g>
<g transform="translate(363.2,499.4) rotate(-24)"><text text-anchor="middle" font-weight="bold" fill="#111" stroke="#111" stroke-width="0.3"><tspan x="-15.35" y="2.8" font-size="8.5" font-style="italic">Rassf8-</tspan><tspan x="-15" y="14.4" font-size="8.5">inhibit</tspan></text></g>
</g>
<g id="panelF">
<text x="425.4" y="576.2" font-size="15.4" fill="#111">F</text>
<clipPath id="cfI"><rect x="465.7" y="585.7" width="71.2" height="101.6"/></clipPath>
<g clip-path="url(#cfI)">
<rect x="465.7" y="585.7" width="71.2" height="101.6" fill="#08002b"/>
<g id="fcI" filter="url(#b04)"><g fill="#3a22f2"><circle cx="506.5" cy="587.4" r="1.6"/><circle cx="523.2" cy="599.4" r="1.8"/><circle cx="467.1" cy="612.6" r="1.9"/><circle cx="475.5" cy="604.5" r="1.9"/><circle cx="507.1" cy="610.6" r="1.8"/><circle cx="480.7" cy="615.3" r="1.9"/><circle cx="516.9" cy="617.5" r="1.8"/><circle cx="535.3" cy="619.1" r="1.8"/><circle cx="485.8" cy="628" r="2"/><circle cx="518.4" cy="623.5" r="1.6"/><circle cx="489" cy="634.8" r="1.8"/><circle cx="490.5" cy="639.5" r="1.7"/><circle cx="500.2" cy="634.1" r="1.8"/><circle cx="495.9" cy="632.4" r="1.8"/><circle cx="495.7" cy="636.9" r="1.6"/><circle cx="467.7" cy="643.9" r="1.7"/><circle cx="492" cy="642.7" r="1.6"/><circle cx="500.6" cy="642.8" r="1.7"/><circle cx="510" cy="654.7" r="1.7"/><circle cx="518.2" cy="658.5" r="1.7"/><circle cx="475.7" cy="668.7" r="1.6"/><circle cx="511.2" cy="663.7" r="1.6"/><circle cx="519.1" cy="665.7" r="1.8"/><circle cx="491.5" cy="676.3" r="2"/><circle cx="525.9" cy="672" r="1.7"/><circle cx="493.8" cy="681.7" r="1.8"/><circle cx="505.1" cy="685.3" r="1.8"/><circle cx="514.8" cy="678.8" r="1.6"/></g><g fill="#a82ee0"><circle cx="526.3" cy="592.1" r="2"/><circle cx="509.6" cy="595.4" r="1.7"/><circle cx="520.8" cy="601.7" r="1.6"/><circle cx="470.6" cy="610.5" r="1.8"/><circle cx="506.4" cy="605.4" r="2"/><circle cx="521.2" cy="607.9" r="1.9"/><circle cx="532" cy="606.7" r="1.7"/><circle cx="481.6" cy="621.8" r="1.6"/><circle cx="478.2" cy="623.1" r="1.6"/><circle cx="518.6" cy="631.5" r="1.6"/><circle cx="472.1" cy="640.2" r="2"/><circle cx="487.4" cy="639" r="2"/><circle cx="494.2" cy="650.1" r="1.9"/><circle cx="499.2" cy="650.2" r="1.8"/><circle cx="509.4" cy="641.3" r="1.8"/><circle cx="511.4" cy="647.6" r="1.8"/><circle cx="518.3" cy="649.5" r="1.8"/><circle cx="526.5" cy="649.2" r="1.6"/><circle cx="487.2" cy="654.8" r="1.8"/><circle cx="503.1" cy="655.6" r="1.8"/><circle cx="479.9" cy="668.2" r="1.7"/><circle cx="476.9" cy="665.3" r="2"/><circle cx="511.2" cy="677.3" r="1.6"/><circle cx="518.6" cy="684.2" r="1.8"/></g><g fill="#2f1cee"><circle cx="520.5" cy="585.8" r="1.6"/><circle cx="496.5" cy="597.5" r="1.9"/><circle cx="508.8" cy="598.5" r="1.6"/><circle cx="536.9" cy="600.5" r="2"/><circle cx="519.1" cy="604.9" r="2"/><circle cx="527.1" cy="612.2" r="1.9"/><circle cx="486.6" cy="616.4" r="1.9"/><circle cx="489.9" cy="615.4" r="2"/><circle cx="499.4" cy="616.4" r="1.7"/><circle cx="527.7" cy="618.2" r="1.8"/><circle cx="507.3" cy="627.2" r="1.9"/><circle cx="527.7" cy="630.3" r="1.9"/><circle cx="483.1" cy="638.9" r="1.7"/><circle cx="481" cy="634.9" r="1.6"/><circle cx="494.2" cy="639.8" r="1.6"/><circle cx="506.9" cy="633.7" r="1.8"/><circle cx="468.1" cy="648.5" r="1.8"/><circle cx="475.4" cy="650.2" r="1.8"/><circle cx="489" cy="649.6" r="2"/><circle cx="472" cy="658.8" r="2"/><circle cx="512.7" cy="658.4" r="1.8"/><circle cx="527.3" cy="658.5" r="1.6"/><circle cx="523.5" cy="667.3" r="1.9"/><circle cx="535.7" cy="668.3" r="1.6"/><circle cx="470.7" cy="677.8" r="1.7"/><circle cx="496" cy="674.5" r="1.7"/><circle cx="504" cy="678.1" r="1.6"/><circle cx="524.6" cy="686.6" r="1.7"/></g><g fill="#d834d0"><circle cx="533.3" cy="592.9" r="1.9"/><circle cx="471.4" cy="604.3" r="1.8"/><circle cx="524.2" cy="609.9" r="1.6"/><circle cx="489.1" cy="621.8" r="1.8"/><circle cx="508.3" cy="614.7" r="2"/><circle cx="524.1" cy="616.3" r="1.6"/><circle cx="536.1" cy="622.4" r="1.8"/><circle cx="484.9" cy="635.7" r="1.7"/><circle cx="504.5" cy="636.2" r="1.6"/><circle cx="488.8" cy="643.7" r="1.6"/><circle cx="494.8" cy="646.6" r="1.6"/><circle cx="508.9" cy="644.6" r="1.9"/><circle cx="515.6" cy="645.6" r="1.8"/><circle cx="521" cy="641.8" r="1.7"/><circle cx="535.6" cy="648.2" r="1.9"/><circle cx="470.7" cy="653.8" r="1.8"/><circle cx="517.7" cy="653" r="1.7"/><circle cx="469.4" cy="663.1" r="1.8"/><circle cx="513.9" cy="665.3" r="1.8"/><circle cx="519" cy="674" r="2"/><circle cx="522.4" cy="674.3" r="1.7"/><circle cx="525.3" cy="676.6" r="1.6"/><circle cx="522.2" cy="670.3" r="1.9"/></g><g fill="#c030dc"><circle cx="503.3" cy="597.6" r="1.7"/><circle cx="525.8" cy="596" r="1.6"/><circle cx="534.9" cy="598" r="1.6"/><circle cx="493" cy="608" r="1.6"/><circle cx="514.4" cy="607.5" r="1.6"/><circle cx="531.1" cy="612.4" r="2"/><circle cx="492.7" cy="620.9" r="1.6"/><circle cx="483.4" cy="631.2" r="1.6"/><circle cx="477.6" cy="629.7" r="1.9"/><circle cx="491.6" cy="630.8" r="1.6"/><circle cx="532.2" cy="625.4" r="1.9"/><circle cx="532.5" cy="644" r="1.6"/><circle cx="507.3" cy="651.6" r="1.9"/><circle cx="512.6" cy="674.4" r="1.7"/><circle cx="515.1" cy="672.5" r="1.9"/></g><g fill="#f040b0"><circle cx="512" cy="601.2" r="1.7"/><circle cx="466.9" cy="617.6" r="1.7"/><circle cx="491.2" cy="625.9" r="1.7"/><circle cx="476.4" cy="638.6" r="1.8"/><circle cx="486" cy="648.1" r="1.9"/><circle cx="517.9" cy="643.2" r="1.8"/><circle cx="514.6" cy="649.7" r="1.6"/><circle cx="513.1" cy="643.5" r="1.7"/><circle cx="529.4" cy="642.9" r="1.8"/><circle cx="495.9" cy="657" r="1.6"/><circle cx="511.7" cy="651.5" r="1.6"/><circle cx="493.7" cy="660.6" r="2"/><circle cx="509" cy="666.2" r="1.8"/><circle cx="506.1" cy="667.6" r="2"/><circle cx="497.1" cy="669.1" r="2"/><circle cx="508.1" cy="676" r="1.6"/><circle cx="484.7" cy="682.5" r="1.9"/></g><g fill="#2814d4"><circle cx="529.9" cy="597.4" r="2"/><circle cx="479.6" cy="612" r="1.6"/><circle cx="516.8" cy="610.7" r="1.7"/><circle cx="534.4" cy="611.9" r="1.6"/><circle cx="473.5" cy="613.8" r="1.7"/><circle cx="475" cy="619.2" r="2"/><circle cx="493.1" cy="617.5" r="1.8"/><circle cx="531.7" cy="622.2" r="1.7"/><circle cx="535.6" cy="615.6" r="2"/><circle cx="475.5" cy="626.3" r="1.7"/><circle cx="488.6" cy="631.1" r="1.7"/><circle cx="500.5" cy="625.8" r="1.7"/><circle cx="504.2" cy="626.2" r="2"/><circle cx="500.4" cy="638.6" r="1.9"/><circle cx="504" cy="639.4" r="1.9"/><circle cx="482.8" cy="664.5" r="1.8"/><circle cx="519.8" cy="661.1" r="1.8"/><circle cx="473.7" cy="686.6" r="1.6"/><circle cx="481.8" cy="683.7" r="1.6"/><circle cx="485" cy="686.3" r="1.7"/><circle cx="507.8" cy="683" r="1.7"/></g><g fill="#5226e6"><circle cx="474.2" cy="608.6" r="1.6"/><circle cx="478.1" cy="608.1" r="1.7"/><circle cx="527.6" cy="605.2" r="1.7"/><circle cx="520.6" cy="612.5" r="1.8"/><circle cx="505.9" cy="619.7" r="1.8"/><circle cx="526.7" cy="622.4" r="1.6"/><circle cx="532.4" cy="616.5" r="1.8"/><circle cx="474.6" cy="630.3" r="1.6"/><circle cx="466" cy="627.7" r="1.6"/><circle cx="508.9" cy="630.1" r="2"/><circle cx="502.6" cy="629.5" r="1.9"/><circle cx="507.7" cy="623.5" r="1.6"/><circle cx="511.4" cy="638.3" r="1.7"/><circle cx="506.6" cy="648.1" r="2"/><circle cx="521.7" cy="648.6" r="1.7"/><circle cx="482.5" cy="653.2" r="1.6"/><circle cx="513.4" cy="655.3" r="1.7"/><circle cx="471.2" cy="667.8" r="1.8"/><circle cx="513" cy="668.4" r="1.7"/><circle cx="527.7" cy="664" r="1.8"/><circle cx="485.4" cy="673" r="1.6"/><circle cx="492.5" cy="670.2" r="1.6"/><circle cx="522.3" cy="677.6" r="1.9"/><circle cx="529.4" cy="673.4" r="2"/></g><g fill="#e238c4"><circle cx="481.3" cy="618.3" r="1.7"/><circle cx="481.2" cy="626.4" r="1.6"/><circle cx="485.8" cy="622.9" r="1.8"/><circle cx="499" cy="628.6" r="1.8"/><circle cx="515" cy="627.3" r="1.7"/><circle cx="523.3" cy="629.3" r="1.6"/><circle cx="497.2" cy="640.7" r="1.9"/><circle cx="529.1" cy="638.3" r="1.8"/><circle cx="498.3" cy="646.2" r="1.7"/><circle cx="502.9" cy="646.2" r="1.7"/><circle cx="502.7" cy="649.8" r="1.9"/><circle cx="528" cy="646.1" r="1.8"/><circle cx="517.9" cy="668.6" r="1.9"/><circle cx="516.1" cy="661.5" r="1.6"/><circle cx="466.5" cy="673.6" r="1.7"/><circle cx="534.8" cy="676.3" r="1.6"/><circle cx="470.5" cy="683.7" r="1.8"/></g></g>
<use href="#fcI" filter="url(#b20)" opacity="0.42"/>
</g>
<clipPath id="cfII"><rect x="539.8" y="585.7" width="68.9" height="101.6"/></clipPath>
<g clip-path="url(#cfII)">
<rect x="539.8" y="585.7" width="68.9" height="101.6" fill="#08002b"/>
<g id="fcII" filter="url(#b04)"><g fill="#d834d0"><circle cx="548" cy="593.9" r="1.7"/><circle cx="556.2" cy="606.2" r="1.6"/><circle cx="594.2" cy="608.9" r="1.6"/><circle cx="590.2" cy="614.6" r="1.8"/><circle cx="571.5" cy="631.5" r="1.8"/><circle cx="574.8" cy="629.8" r="1.8"/><circle cx="552.9" cy="633.1" r="1.7"/><circle cx="543.9" cy="645.3" r="2"/><circle cx="580.1" cy="649.8" r="1.8"/><circle cx="545.3" cy="659.4" r="1.9"/><circle cx="575.5" cy="654.4" r="1.9"/><circle cx="559.8" cy="668.1" r="1.8"/><circle cx="583.2" cy="659.8" r="1.7"/><circle cx="567.2" cy="677.6" r="1.7"/></g><g fill="#c030dc"><circle cx="551.5" cy="592.4" r="1.6"/><circle cx="564.1" cy="595.7" r="1.9"/><circle cx="563.4" cy="603.2" r="1.8"/><circle cx="557.4" cy="595.1" r="1.7"/><circle cx="591.2" cy="598.7" r="1.9"/><circle cx="592" cy="603.3" r="1.6"/><circle cx="595.9" cy="602.4" r="1.8"/><circle cx="569.2" cy="613.3" r="1.8"/><circle cx="564.5" cy="621.7" r="1.9"/><circle cx="608.3" cy="630.1" r="1.8"/><circle cx="553.5" cy="638.3" r="1.6"/><circle cx="556.3" cy="642.6" r="1.6"/><circle cx="596.6" cy="659.1" r="1.8"/><circle cx="554.6" cy="667.6" r="2"/><circle cx="545" cy="672.7" r="1.8"/><circle cx="582.5" cy="669.9" r="1.9"/><circle cx="604.3" cy="669.7" r="1.6"/><circle cx="546.3" cy="686.6" r="1.7"/><circle cx="549.2" cy="684.1" r="1.6"/><circle cx="584.2" cy="679.2" r="1.9"/></g><g fill="#a82ee0"><circle cx="552.3" cy="585.9" r="1.7"/><circle cx="582" cy="589.8" r="1.9"/><circle cx="586.7" cy="592.3" r="1.6"/><circle cx="577.8" cy="598.4" r="1.9"/><circle cx="576.5" cy="607.4" r="1.6"/><circle cx="590.3" cy="624.9" r="1.6"/><circle cx="574" cy="639.7" r="1.9"/><circle cx="555.6" cy="658.6" r="1.7"/><circle cx="594.8" cy="656" r="1.6"/><circle cx="601.4" cy="652.3" r="1.6"/><circle cx="564" cy="664.9" r="1.9"/><circle cx="582.6" cy="675.4" r="1.6"/><circle cx="586.2" cy="676.6" r="1.6"/><circle cx="587.6" cy="670.7" r="1.8"/><circle cx="561.1" cy="687.1" r="1.7"/><circle cx="592.2" cy="686.1" r="1.6"/><circle cx="604.4" cy="680.6" r="1.7"/></g><g fill="#3a22f2"><circle cx="555.2" cy="591.1" r="2"/><circle cx="561.2" cy="593" r="1.6"/><circle cx="558.6" cy="588.7" r="1.8"/><circle cx="577.2" cy="594.7" r="1.6"/><circle cx="588.8" cy="589.5" r="1.8"/><circle cx="591.2" cy="592.4" r="2"/><circle cx="595.6" cy="592.1" r="1.8"/><circle cx="541.7" cy="601.1" r="1.6"/><circle cx="561" cy="596.4" r="1.7"/><circle cx="571.4" cy="598.4" r="1.8"/><circle cx="576.2" cy="604" r="1.8"/><circle cx="580.2" cy="604" r="1.8"/><circle cx="605.8" cy="598" r="1.8"/><circle cx="557.7" cy="611.8" r="1.6"/><circle cx="570.5" cy="608.4" r="1.6"/><circle cx="586.8" cy="605.9" r="1.9"/><circle cx="591.2" cy="606.4" r="1.9"/><circle cx="557.4" cy="622.3" r="1.8"/><circle cx="588.6" cy="617.4" r="1.8"/><circle cx="560.7" cy="636.3" r="1.6"/><circle cx="582.3" cy="635.5" r="1.6"/><circle cx="591.4" cy="640.5" r="1.8"/><circle cx="560.4" cy="647.2" r="1.8"/><circle cx="570.9" cy="652.6" r="1.7"/><circle cx="577.5" cy="658.4" r="1.6"/><circle cx="579.5" cy="655.1" r="1.9"/><circle cx="539.8" cy="663.9" r="2"/><circle cx="570.2" cy="661.1" r="1.7"/><circle cx="543.7" cy="669.7" r="1.8"/><circle cx="548.9" cy="669.2" r="1.6"/><circle cx="580.4" cy="672.3" r="1.6"/><circle cx="591.4" cy="671.8" r="1.7"/><circle cx="540.5" cy="684.6" r="1.6"/><circle cx="554.4" cy="683.6" r="1.6"/><circle cx="559.8" cy="683.5" r="1.8"/><circle cx="596.3" cy="682.8" r="1.9"/><circle cx="608.2" cy="686.2" r="2"/></g><g fill="#2814d4"><circle cx="563.6" cy="589.1" r="1.8"/><circle cx="569.3" cy="590.9" r="1.9"/><circle cx="608.5" cy="592.5" r="1.9"/><circle cx="602.4" cy="588.3" r="1.7"/><circle cx="549.6" cy="603.5" r="2"/><circle cx="565.3" cy="600.8" r="1.8"/><circle cx="568.6" cy="596.8" r="1.7"/><circle cx="584.1" cy="601.5" r="1.9"/><circle cx="592.7" cy="595.7" r="1.8"/><circle cx="600.8" cy="602.3" r="1.8"/><circle cx="572.2" cy="612.1" r="1.7"/><circle cx="567.2" cy="610.8" r="1.8"/><circle cx="585.6" cy="612.2" r="1.7"/><circle cx="572" cy="621.2" r="1.6"/><circle cx="580" cy="616.1" r="1.7"/><circle cx="606.2" cy="621.8" r="1.7"/><circle cx="600.4" cy="615" r="1.8"/><circle cx="607.5" cy="618.2" r="1.6"/><circle cx="600.1" cy="621" r="1.9"/><circle cx="575.6" cy="626.3" r="1.9"/><circle cx="587.8" cy="627.8" r="1.9"/><circle cx="564.3" cy="640.1" r="1.8"/><circle cx="596.5" cy="635.9" r="1.8"/><circle cx="563.5" cy="648.4" r="1.9"/><circle cx="552.4" cy="652.3" r="1.9"/><circle cx="591.5" cy="655.2" r="1.7"/><circle cx="604" cy="656.8" r="1.8"/><circle cx="573.7" cy="665" r="2"/><circle cx="579" cy="668.8" r="1.9"/><circle cx="590.7" cy="666.3" r="1.8"/><circle cx="546.6" cy="678" r="1.8"/><circle cx="557.7" cy="671.4" r="1.6"/><circle cx="541.4" cy="679.8" r="1.9"/><circle cx="574.7" cy="683" r="1.9"/></g><g fill="#5226e6"><circle cx="567.9" cy="586.7" r="1.7"/><circle cx="570.3" cy="594.2" r="1.6"/><circle cx="580.6" cy="586.2" r="1.9"/><circle cx="576.5" cy="590.8" r="2"/><circle cx="605.6" cy="588.1" r="1.7"/><circle cx="604.1" cy="592.6" r="1.8"/><circle cx="574.6" cy="599.3" r="1.9"/><circle cx="598.6" cy="599.3" r="1.7"/><circle cx="549.1" cy="607.2" r="1.9"/><circle cx="561.2" cy="606.3" r="1.9"/><circle cx="566.5" cy="607.4" r="1.7"/><circle cx="578" cy="613.4" r="1.7"/><circle cx="587.2" cy="609.5" r="1.8"/><circle cx="583" cy="607.1" r="1.8"/><circle cx="605.3" cy="608.8" r="1.7"/><circle cx="604.2" cy="613.6" r="2"/><circle cx="608.1" cy="613.5" r="1.8"/><circle cx="583.7" cy="624.2" r="1.9"/><circle cx="597.7" cy="629.6" r="1.8"/><circle cx="598.9" cy="626.5" r="1.8"/><circle cx="604" cy="625.3" r="1.6"/><circle cx="608.4" cy="626.3" r="1.8"/><circle cx="581.6" cy="644.2" r="1.7"/><circle cx="585.5" cy="642.5" r="1.7"/><circle cx="567" cy="652.9" r="1.9"/><circle cx="600.8" cy="655.8" r="1.9"/><circle cx="545.9" cy="667.2" r="2"/><circle cx="562.3" cy="660" r="1.9"/><circle cx="569.3" cy="667.2" r="1.7"/><circle cx="543.7" cy="676.2" r="2"/><circle cx="554.5" cy="671.9" r="1.9"/><circle cx="568.9" cy="675" r="1.8"/><circle cx="575.2" cy="672" r="1.6"/><circle cx="605.6" cy="677.6" r="1.9"/></g><g fill="#2f1cee"><circle cx="574" cy="586.2" r="1.6"/><circle cx="597.9" cy="589.4" r="1.6"/><circle cx="599.9" cy="591.8" r="1.8"/><circle cx="572.5" cy="603.3" r="1.7"/><circle cx="587.8" cy="595.9" r="1.9"/><circle cx="583.9" cy="596.8" r="1.9"/><circle cx="587.3" cy="601.4" r="1.9"/><circle cx="563" cy="609.2" r="1.8"/><circle cx="581.2" cy="609.7" r="1.7"/><circle cx="590.9" cy="609.9" r="1.8"/><circle cx="551.5" cy="622.4" r="1.6"/><circle cx="560.8" cy="618.3" r="1.6"/><circle cx="568.1" cy="617.4" r="1.9"/><circle cx="596.4" cy="613.7" r="1.7"/><circle cx="558.1" cy="631.7" r="2"/><circle cx="561.7" cy="630" r="1.7"/><circle cx="578.8" cy="624.2" r="1.8"/><circle cx="585.5" cy="630" r="1.7"/><circle cx="595.4" cy="626.5" r="1.8"/><circle cx="589.9" cy="634.9" r="1.9"/><circle cx="585.6" cy="634.7" r="2"/><circle cx="599.2" cy="632.9" r="1.6"/><circle cx="568.8" cy="643.5" r="1.6"/><circle cx="574.4" cy="642.9" r="1.8"/><circle cx="588.5" cy="646" r="1.7"/><circle cx="567.2" cy="658.5" r="1.6"/><circle cx="583" cy="654.3" r="2"/><circle cx="552.1" cy="660.1" r="1.6"/><circle cx="559.4" cy="665" r="1.7"/><circle cx="575" cy="668.3" r="1.9"/><circle cx="605.8" cy="663.5" r="1.8"/><circle cx="551.2" cy="676" r="2"/><circle cx="574.9" cy="676.2" r="1.8"/><circle cx="598.6" cy="671" r="1.8"/><circle cx="593.9" cy="674.1" r="1.7"/><circle cx="553.1" cy="678.8" r="1.7"/></g><g fill="#f040b0"><circle cx="594.2" cy="588.9" r="1.6"/><circle cx="599.2" cy="594.8" r="1.6"/><circle cx="576.7" cy="620.5" r="1.8"/><circle cx="576.8" cy="616.7" r="1.8"/><circle cx="580.7" cy="620.5" r="1.9"/><circle cx="559" cy="640.4" r="1.8"/><circle cx="583.2" cy="639.7" r="2"/><circle cx="598.1" cy="639" r="1.9"/><circle cx="541.8" cy="661.2" r="1.9"/><circle cx="550.3" cy="664" r="1.8"/><circle cx="566.3" cy="667.9" r="1.9"/><circle cx="578" cy="664.4" r="1.7"/><circle cx="555.7" cy="676.4" r="1.7"/><circle cx="583.7" cy="685.7" r="1.6"/></g><g fill="#e238c4"><circle cx="560.7" cy="600.8" r="2"/><circle cx="574" cy="595.8" r="1.6"/><circle cx="569.2" cy="601.9" r="1.6"/><circle cx="581.3" cy="599.8" r="2"/><circle cx="605.8" cy="601.8" r="1.7"/><circle cx="563.4" cy="612.8" r="1.6"/><circle cx="603.8" cy="605.7" r="1.6"/><circle cx="586" cy="619.3" r="1.8"/><circle cx="588.1" cy="622.3" r="1.6"/><circle cx="592.1" cy="621.7" r="1.6"/><circle cx="589.7" cy="631.1" r="1.6"/><circle cx="587.2" cy="639.8" r="1.8"/><circle cx="572.4" cy="646" r="1.9"/><circle cx="577.3" cy="646.6" r="1.8"/><circle cx="563.4" cy="673.1" r="1.7"/><circle cx="578.1" cy="676.6" r="1.8"/><circle cx="590.8" cy="675.1" r="1.9"/><circle cx="591.8" cy="681.5" r="1.7"/></g></g>
<use href="#fcII" filter="url(#b20)" opacity="0.42"/>
</g>
<clipPath id="cfIII"><rect x="465.7" y="690.3" width="71.2" height="102"/></clipPath>
<g clip-path="url(#cfIII)">
<rect x="465.7" y="690.3" width="71.2" height="102" fill="#08002b"/>
<g id="fcIII" filter="url(#b04)"><g fill="#2814d4"><circle cx="472.4" cy="697.2" r="1.7"/><circle cx="475.2" cy="695.2" r="1.8"/><circle cx="483.1" cy="690.4" r="1.9"/><circle cx="519.5" cy="691.9" r="1.6"/><circle cx="473.2" cy="702.4" r="1.8"/><circle cx="486.3" cy="701.9" r="1.7"/><circle cx="495.9" cy="701.6" r="1.8"/><circle cx="518.1" cy="704.7" r="1.9"/><circle cx="527" cy="704.3" r="1.8"/><circle cx="480.1" cy="717.9" r="2"/><circle cx="529.8" cy="711.4" r="1.8"/><circle cx="536.2" cy="710.9" r="1.9"/><circle cx="489.2" cy="724.3" r="1.6"/><circle cx="512" cy="724.7" r="1.9"/><circle cx="481.9" cy="732.4" r="1.6"/><circle cx="515.9" cy="736.2" r="1.7"/><circle cx="510.7" cy="735.9" r="1.9"/><circle cx="532" cy="730.7" r="1.8"/><circle cx="470.5" cy="738.3" r="1.8"/><circle cx="482.2" cy="740" r="1.6"/><circle cx="521.4" cy="744.5" r="1.8"/><circle cx="526.6" cy="739" r="1.9"/><circle cx="493.6" cy="748.7" r="2"/><circle cx="510.1" cy="749.4" r="2"/><circle cx="514.9" cy="748.9" r="1.7"/><circle cx="472.1" cy="757.1" r="1.6"/><circle cx="474.5" cy="760.1" r="1.7"/><circle cx="485.9" cy="761.3" r="1.8"/><circle cx="514.7" cy="762.6" r="2"/><circle cx="510.6" cy="764.3" r="1.6"/><circle cx="530.4" cy="766.8" r="1.8"/><circle cx="531.5" cy="772.2" r="1.6"/><circle cx="535.1" cy="769.4" r="1.6"/><circle cx="491.4" cy="779.1" r="1.9"/><circle cx="505.4" cy="779" r="1.9"/><circle cx="503" cy="776.1" r="1.6"/><circle cx="515.3" cy="781.5" r="1.9"/><circle cx="468" cy="790.2" r="1.6"/><circle cx="510" cy="786.9" r="1.7"/></g><g fill="#2f1cee"><circle cx="481.8" cy="698.8" r="1.7"/><circle cx="490.4" cy="697.4" r="2"/><circle cx="506.3" cy="690.5" r="1.8"/><circle cx="505.8" cy="704.3" r="1.6"/><circle cx="536.7" cy="706.9" r="1.8"/><circle cx="532.3" cy="701.2" r="1.6"/><circle cx="500.6" cy="711" r="1.9"/><circle cx="509.8" cy="713.1" r="2"/><circle cx="519.2" cy="712.6" r="1.7"/><circle cx="530.2" cy="718.1" r="2"/><circle cx="534.2" cy="714.2" r="2"/><circle cx="536.9" cy="717.7" r="1.7"/><circle cx="468" cy="720.5" r="1.7"/><circle cx="480.3" cy="721.4" r="1.6"/><circle cx="507.3" cy="718.6" r="1.6"/><circle cx="502.9" cy="718.3" r="1.8"/><circle cx="505" cy="727.4" r="2"/><circle cx="516" cy="724.7" r="2"/><circle cx="510.4" cy="720.7" r="1.8"/><circle cx="519.4" cy="719.6" r="1.9"/><circle cx="472.9" cy="735.9" r="1.8"/><circle cx="497.7" cy="730.6" r="1.7"/><circle cx="500.7" cy="732.1" r="1.6"/><circle cx="530.3" cy="734.8" r="1.7"/><circle cx="469.6" cy="742.2" r="1.6"/><circle cx="480.9" cy="744.5" r="1.8"/><circle cx="476.4" cy="744.3" r="1.9"/><circle cx="498.6" cy="742.4" r="2"/><circle cx="501.9" cy="742.4" r="2"/><circle cx="468.1" cy="747.9" r="1.6"/><circle cx="507.3" cy="755.1" r="1.9"/><circle cx="479.3" cy="757.6" r="1.6"/><circle cx="500.1" cy="757.3" r="1.8"/><circle cx="518.6" cy="758.9" r="1.9"/><circle cx="523.6" cy="758.1" r="1.6"/><circle cx="470.9" cy="769.7" r="1.7"/><circle cx="471.3" cy="766.1" r="1.9"/><circle cx="496.5" cy="765.8" r="1.7"/><circle cx="504.3" cy="773.2" r="1.9"/><circle cx="523.7" cy="770.2" r="2"/><circle cx="519.8" cy="768.1" r="1.8"/><circle cx="471.4" cy="775.3" r="1.9"/><circle cx="467.1" cy="782.4" r="1.6"/><circle cx="477" cy="780.6" r="1.8"/><circle cx="500" cy="773.9" r="1.9"/><circle cx="518.7" cy="776.8" r="1.7"/><circle cx="535.5" cy="776.9" r="1.8"/><circle cx="490" cy="787.8" r="1.6"/><circle cx="518.3" cy="790" r="1.7"/><circle cx="525.4" cy="783.6" r="1.8"/></g><g fill="#f040b0"><circle cx="474.8" cy="699.4" r="1.6"/><circle cx="500.9" cy="705.2" r="1.7"/><circle cx="522.8" cy="714" r="1.7"/><circle cx="492.2" cy="723" r="1.6"/><circle cx="498.3" cy="726.8" r="1.6"/><circle cx="482.5" cy="736.3" r="1.7"/><circle cx="475.2" cy="727.9" r="2"/><circle cx="485.8" cy="728.2" r="1.8"/><circle cx="495.1" cy="729" r="1.8"/><circle cx="520" cy="732.3" r="1.7"/><circle cx="467.6" cy="744.7" r="1.8"/><circle cx="477.7" cy="741.4" r="1.8"/><circle cx="484.4" cy="744.5" r="1.6"/><circle cx="504.2" cy="744.7" r="1.8"/><circle cx="472.8" cy="752.6" r="1.9"/><circle cx="475.9" cy="754.7" r="1.8"/><circle cx="503.8" cy="748.9" r="1.7"/><circle cx="503.6" cy="752.9" r="1.7"/><circle cx="511.7" cy="754.4" r="1.7"/><circle cx="525.4" cy="751.1" r="1.9"/><circle cx="530.6" cy="748.5" r="1.6"/><circle cx="534.3" cy="749.3" r="1.6"/><circle cx="509.6" cy="758.1" r="1.9"/><circle cx="475.1" cy="766.5" r="1.8"/><circle cx="527.7" cy="771.7" r="1.9"/><circle cx="507.9" cy="781.3" r="1.8"/><circle cx="511.4" cy="775.5" r="2"/><circle cx="472.2" cy="788.3" r="1.7"/><circle cx="476.6" cy="788.8" r="1.9"/><circle cx="503.2" cy="785.5" r="1.8"/></g><g fill="#c030dc"><circle cx="491" cy="691.1" r="1.9"/><circle cx="530.7" cy="693.4" r="1.8"/><circle cx="466.8" cy="706.8" r="1.9"/><circle cx="485.7" cy="705" r="1.7"/><circle cx="516.9" cy="700.2" r="1.8"/><circle cx="533.9" cy="704.1" r="1.8"/><circle cx="532.5" cy="707.3" r="1.8"/><circle cx="495.4" cy="711.5" r="1.9"/><circle cx="496.7" cy="716" r="1.6"/><circle cx="511.2" cy="716.8" r="1.8"/><circle cx="516.5" cy="714.2" r="1.8"/><circle cx="515.3" cy="730.6" r="1.8"/><circle cx="472.3" cy="745.3" r="1.7"/><circle cx="503.8" cy="738.3" r="1.9"/><circle cx="507.2" cy="738.2" r="1.6"/><circle cx="528.9" cy="743.3" r="2"/><circle cx="532.6" cy="739.6" r="1.7"/><circle cx="481.5" cy="754.7" r="1.8"/><circle cx="477.2" cy="764.3" r="1.7"/><circle cx="493.5" cy="773.5" r="1.8"/><circle cx="479.5" cy="776.7" r="2"/><circle cx="499.7" cy="786.2" r="1.9"/></g><g fill="#5226e6"><circle cx="484.7" cy="697.1" r="1.7"/><circle cx="496.9" cy="693.5" r="2"/><circle cx="500.9" cy="693.8" r="1.6"/><circle cx="525.6" cy="697.2" r="1.8"/><circle cx="475.9" cy="707.6" r="1.7"/><circle cx="481.8" cy="702.2" r="1.9"/><circle cx="498" cy="703.9" r="1.7"/><circle cx="505.3" cy="707.5" r="2"/><circle cx="511.2" cy="706.7" r="1.6"/><circle cx="465.7" cy="715.6" r="1.7"/><circle cx="473.3" cy="712.2" r="2"/><circle cx="484.9" cy="718.1" r="1.7"/><circle cx="504.4" cy="715.1" r="1.6"/><circle cx="533.7" cy="717.5" r="1.8"/><circle cx="494.8" cy="718.6" r="1.8"/><circle cx="478.2" cy="735.2" r="2"/><circle cx="476.2" cy="738.1" r="2"/><circle cx="510.9" cy="740.2" r="2"/><circle cx="535.6" cy="752.4" r="1.8"/><circle cx="481.4" cy="763" r="1.7"/><circle cx="468.5" cy="772.5" r="1.8"/><circle cx="481" cy="768.5" r="1.7"/><circle cx="507.6" cy="769.9" r="1.8"/><circle cx="473.7" cy="779.3" r="1.6"/><circle cx="510" cy="778.5" r="1.8"/><circle cx="521.3" cy="785.5" r="1.9"/><circle cx="531" cy="783.1" r="1.7"/></g><g fill="#d834d0"><circle cx="487" cy="690.8" r="1.9"/><circle cx="498.6" cy="697.8" r="1.6"/><circle cx="508.4" cy="698.4" r="1.7"/><circle cx="520.8" cy="699.2" r="1.8"/><circle cx="492.3" cy="706" r="1.6"/><circle cx="485.6" cy="708.5" r="2"/><circle cx="520.3" cy="702.5" r="1.9"/><circle cx="491.6" cy="718.1" r="1.8"/><circle cx="499.9" cy="717.1" r="1.7"/><circle cx="525.9" cy="717.3" r="1.6"/><circle cx="486.9" cy="733" r="1.8"/><circle cx="490.9" cy="729.1" r="1.6"/><circle cx="494.7" cy="755.1" r="1.8"/><circle cx="472.7" cy="772.3" r="2"/><circle cx="486.5" cy="773.2" r="1.8"/><circle cx="508.6" cy="773.5" r="1.8"/><circle cx="469.1" cy="779.5" r="1.7"/><circle cx="474.8" cy="776.2" r="1.7"/><circle cx="525.1" cy="776.1" r="2"/><circle cx="466.5" cy="787.2" r="1.6"/><circle cx="488.1" cy="784.8" r="1.9"/><circle cx="496.2" cy="790.2" r="1.6"/></g><g fill="#a82ee0"><circle cx="493.2" cy="695.5" r="2"/><circle cx="472" cy="705.4" r="1.6"/><circle cx="477" cy="704.1" r="1.7"/><circle cx="495.9" cy="708.1" r="1.8"/><circle cx="527.6" cy="708.2" r="1.8"/><circle cx="535.6" cy="699.8" r="1.7"/><circle cx="484.4" cy="713.3" r="1.7"/><circle cx="514.2" cy="709" r="1.8"/><circle cx="526" cy="712.4" r="1.9"/><circle cx="528" cy="723.2" r="1.8"/><circle cx="532" cy="724.3" r="1.9"/><circle cx="534.5" cy="727.3" r="1.6"/><circle cx="536.1" cy="724.6" r="1.9"/><circle cx="501.5" cy="735.6" r="1.8"/><circle cx="519.2" cy="741.8" r="1.6"/><circle cx="497.5" cy="760.7" r="1.8"/><circle cx="501.5" cy="760.1" r="1.8"/><circle cx="505.2" cy="759.2" r="1.7"/><circle cx="504.1" cy="763.7" r="1.9"/><circle cx="518.1" cy="762.6" r="1.8"/><circle cx="531.2" cy="757.5" r="2"/><circle cx="502.3" cy="769.6" r="1.9"/><circle cx="512.9" cy="768.9" r="1.9"/><circle cx="515.4" cy="767.1" r="1.6"/><circle cx="518.2" cy="773.7" r="1.7"/><circle cx="500.7" cy="782.3" r="1.7"/><circle cx="528.5" cy="776" r="1.7"/><circle cx="499.7" cy="789.6" r="1.8"/></g><g fill="#e238c4"><circle cx="503.5" cy="697.9" r="1.7"/><circle cx="522.9" cy="693.5" r="1.9"/><circle cx="492.2" cy="700.9" r="1.9"/><circle cx="481.3" cy="713.1" r="1.6"/><circle cx="492.1" cy="712.4" r="2"/><circle cx="488" cy="719.2" r="1.6"/><circle cx="514.5" cy="721.8" r="1.9"/><circle cx="533.1" cy="721.2" r="1.8"/><circle cx="505.4" cy="731.3" r="1.9"/><circle cx="525.8" cy="734.5" r="1.7"/><circle cx="534.9" cy="734" r="1.9"/><circle cx="490.1" cy="743" r="2"/><circle cx="509.2" cy="743.8" r="1.7"/><circle cx="536.2" cy="741.3" r="1.7"/><circle cx="498.8" cy="748.8" r="1.6"/><circle cx="508" cy="752" r="1.9"/><circle cx="467.6" cy="760.5" r="1.6"/><circle cx="493" cy="762.9" r="1.6"/><circle cx="507" cy="762.4" r="2"/><circle cx="466.3" cy="769" r="1.9"/><circle cx="483.4" cy="770.4" r="1.6"/><circle cx="487.5" cy="765.8" r="1.6"/><circle cx="514" cy="772.9" r="1.8"/><circle cx="535.6" cy="773.1" r="1.8"/><circle cx="465.7" cy="773.9" r="1.6"/><circle cx="480.3" cy="780.5" r="2"/><circle cx="483" cy="777.8" r="1.9"/><circle cx="493.9" cy="781.8" r="1.6"/><circle cx="529.8" cy="779.5" r="1.8"/><circle cx="474.3" cy="785.2" r="1.9"/><circle cx="479.1" cy="786.2" r="1.7"/></g><g fill="#3a22f2"><circle cx="515" cy="694.4" r="1.6"/><circle cx="530.6" cy="697.3" r="1.9"/><circle cx="499.9" cy="701.4" r="1.7"/><circle cx="523" cy="704.8" r="1.7"/><circle cx="523.6" cy="708.5" r="1.7"/><circle cx="471.1" cy="714.8" r="1.9"/><circle cx="477.9" cy="710.1" r="1.6"/><circle cx="488.6" cy="712.4" r="1.8"/><circle cx="490.8" cy="709.4" r="1.9"/><circle cx="507.4" cy="709.9" r="2"/><circle cx="498" cy="722.7" r="1.7"/><circle cx="495.3" cy="724.9" r="1.8"/><circle cx="522.1" cy="723.2" r="1.6"/><circle cx="520.4" cy="727.2" r="1.8"/><circle cx="493.4" cy="733.7" r="1.9"/><circle cx="506.5" cy="734.8" r="2"/><circle cx="525.6" cy="728.9" r="1.6"/><circle cx="485.8" cy="737.6" r="1.8"/><circle cx="494.6" cy="745" r="1.9"/><circle cx="515.5" cy="743.9" r="2"/><circle cx="516.6" cy="739.4" r="1.8"/><circle cx="523.2" cy="738.1" r="1.9"/><circle cx="466.7" cy="752.9" r="1.8"/><circle cx="480.3" cy="750.2" r="1.6"/><circle cx="475.2" cy="749.2" r="1.7"/><circle cx="483.7" cy="749.9" r="1.9"/><circle cx="499.4" cy="754" r="1.8"/><circle cx="507.2" cy="747.3" r="1.6"/><circle cx="517.9" cy="750.7" r="1.8"/><circle cx="531.9" cy="751.6" r="1.6"/><circle cx="467.9" cy="756.7" r="1.6"/><circle cx="514.6" cy="758.2" r="1.9"/><circle cx="479.8" cy="771.4" r="1.9"/><circle cx="477.1" cy="773.3" r="2"/><circle cx="486.3" cy="769" r="1.6"/><circle cx="481.5" cy="790.5" r="1.9"/><circle cx="485.3" cy="788.4" r="1.6"/><circle cx="503.8" cy="790" r="1.7"/></g></g>
<use href="#fcIII" filter="url(#b20)" opacity="0.42"/>
</g>
<clipPath id="cfIV"><rect x="539.8" y="690.3" width="71.2" height="102"/></clipPath>
<g clip-path="url(#cfIV)">
<rect x="539.8" y="690.3" width="71.2" height="102" fill="#08002b"/>
<g id="fcIV" filter="url(#b04)"><g fill="#ff3060"><circle cx="560.7" cy="695.1" r="1.8"/><circle cx="581.6" cy="693.4" r="1.8"/><circle cx="610.4" cy="705.4" r="1.6"/><circle cx="570.4" cy="712.7" r="1.6"/><circle cx="548.6" cy="736.3" r="1.8"/><circle cx="577.7" cy="728" r="1.7"/><circle cx="590.3" cy="736.3" r="1.7"/><circle cx="602.1" cy="736.4" r="1.9"/><circle cx="557.4" cy="758" r="1.6"/><circle cx="573.8" cy="761.1" r="1.8"/><circle cx="589.4" cy="757.3" r="1.9"/><circle cx="542.2" cy="775.3" r="1.9"/><circle cx="595.9" cy="782.3" r="1.9"/><circle cx="548.9" cy="786.1" r="1.8"/><circle cx="563.8" cy="786.1" r="1.7"/><circle cx="592.8" cy="791.9" r="1.7"/></g><g fill="#5226e6"><circle cx="566.1" cy="690.3" r="1.9"/><circle cx="600.4" cy="695.4" r="1.7"/><circle cx="607.5" cy="698.6" r="2"/><circle cx="578.5" cy="702.4" r="1.8"/><circle cx="588.8" cy="707.9" r="1.9"/><circle cx="588.6" cy="700.2" r="1.8"/><circle cx="598.1" cy="708.1" r="1.9"/><circle cx="597.3" cy="704.7" r="1.9"/><circle cx="544.4" cy="709.8" r="2"/><circle cx="556.3" cy="710.5" r="1.7"/><circle cx="566.3" cy="716.6" r="1.8"/><circle cx="573.4" cy="717.2" r="1.8"/><circle cx="594.9" cy="717.8" r="1.8"/><circle cx="599.6" cy="711.2" r="1.7"/><circle cx="607.6" cy="717.2" r="1.9"/><circle cx="603.7" cy="712.8" r="1.8"/><circle cx="543.1" cy="720.9" r="1.9"/><circle cx="554.2" cy="718.5" r="1.9"/><circle cx="569.8" cy="721.6" r="1.8"/><circle cx="596.2" cy="724.6" r="1.6"/><circle cx="577.7" cy="735" r="1.9"/><circle cx="586.6" cy="743.1" r="2"/><circle cx="584.7" cy="737" r="1.8"/><circle cx="594.9" cy="736.8" r="2"/><circle cx="557.5" cy="751" r="2"/><circle cx="559" cy="754.6" r="1.9"/><circle cx="575.7" cy="748.4" r="1.6"/><circle cx="582.1" cy="754.1" r="1.7"/><circle cx="606.5" cy="747.9" r="1.7"/><circle cx="542.6" cy="759.2" r="1.6"/><circle cx="554.2" cy="756.3" r="1.7"/><circle cx="576.4" cy="758.3" r="1.9"/><circle cx="610.3" cy="782.7" r="1.6"/><circle cx="541.6" cy="786.7" r="1.9"/><circle cx="579.5" cy="789.6" r="1.6"/></g><g fill="#d834d0"><circle cx="573.8" cy="693.2" r="1.7"/><circle cx="591.8" cy="693.8" r="1.6"/><circle cx="577.1" cy="716.4" r="1.8"/><circle cx="580" cy="717.5" r="1.8"/><circle cx="589.8" cy="715.1" r="1.6"/><circle cx="599.2" cy="714.3" r="1.7"/><circle cx="559.8" cy="724.6" r="1.7"/><circle cx="574.7" cy="723.4" r="1.9"/><circle cx="571" cy="728.7" r="1.8"/><circle cx="590.2" cy="732.3" r="2"/><circle cx="596.4" cy="733.8" r="1.7"/><circle cx="609.7" cy="727.6" r="1.9"/><circle cx="565.7" cy="742.9" r="1.6"/><circle cx="596.5" cy="740.2" r="1.8"/><circle cx="553.9" cy="751.1" r="1.8"/><circle cx="577.3" cy="751.7" r="1.6"/><circle cx="601.1" cy="753.3" r="1.9"/><circle cx="549.9" cy="762.6" r="1.8"/><circle cx="560.4" cy="760.4" r="2"/><circle cx="550.1" cy="767.4" r="1.9"/><circle cx="557.2" cy="771.4" r="1.7"/><circle cx="551.3" cy="783" r="1.6"/><circle cx="558.5" cy="780.9" r="1.8"/><circle cx="605.9" cy="779.9" r="1.8"/><circle cx="546.4" cy="783.5" r="1.7"/></g><g fill="#3a22f2"><circle cx="569.8" cy="696.7" r="1.7"/><circle cx="600.1" cy="702.5" r="1.8"/><circle cx="586.2" cy="712.3" r="1.7"/><circle cx="593.9" cy="714.3" r="1.6"/><circle cx="547.7" cy="724.3" r="1.6"/><circle cx="557.2" cy="726.8" r="2"/><circle cx="607.6" cy="720.8" r="1.6"/><circle cx="607.4" cy="725.1" r="1.9"/><circle cx="590.5" cy="728.8" r="1.9"/><circle cx="593.1" cy="733.6" r="1.9"/><circle cx="610" cy="730.9" r="1.7"/><circle cx="608.6" cy="736.4" r="2"/><circle cx="540.1" cy="743.5" r="1.7"/><circle cx="557.2" cy="740.4" r="1.8"/><circle cx="583.8" cy="741.5" r="1.6"/><circle cx="600.9" cy="744" r="1.9"/><circle cx="599.8" cy="739.5" r="1.8"/><circle cx="550.9" cy="749" r="1.6"/><circle cx="586.3" cy="747.9" r="1.8"/><circle cx="591.6" cy="749.5" r="1.9"/><circle cx="592.3" cy="755" r="1.8"/><circle cx="605.3" cy="754.4" r="1.9"/><circle cx="553.7" cy="761.6" r="1.7"/><circle cx="601.7" cy="758.6" r="1.6"/><circle cx="593.9" cy="764.2" r="1.6"/><circle cx="560.5" cy="772.9" r="1.7"/><circle cx="575.9" cy="770.5" r="1.6"/><circle cx="570.5" cy="782.6" r="1.9"/><circle cx="568.1" cy="775.7" r="1.8"/><circle cx="580.5" cy="776.5" r="1.8"/><circle cx="598.6" cy="779.5" r="1.8"/><circle cx="561.5" cy="792.2" r="1.7"/><circle cx="575.6" cy="785" r="1.9"/><circle cx="581.5" cy="785.7" r="1.8"/></g><g fill="#a82ee0"><circle cx="583.5" cy="690.6" r="1.8"/><circle cx="590.9" cy="702.9" r="1.8"/><circle cx="603.3" cy="700.2" r="1.8"/><circle cx="597.3" cy="720.2" r="1.8"/><circle cx="594.4" cy="727.3" r="1.9"/><circle cx="546" cy="729.1" r="1.8"/><circle cx="600.7" cy="729.7" r="1.6"/><circle cx="550.3" cy="740.2" r="1.9"/><circle cx="587.7" cy="739.8" r="1.7"/><circle cx="544.3" cy="754.7" r="1.9"/><circle cx="555.9" cy="748.2" r="1.8"/><circle cx="589.7" cy="752.2" r="1.9"/><circle cx="545.8" cy="760.5" r="1.8"/><circle cx="566.2" cy="758.4" r="1.7"/><circle cx="583" cy="762.9" r="2"/><circle cx="596.7" cy="760.8" r="1.7"/><circle cx="560" cy="768" r="1.6"/><circle cx="553.2" cy="777.1" r="1.6"/><circle cx="554.1" cy="774.1" r="1.7"/><circle cx="559.7" cy="777.4" r="1.9"/><circle cx="581.4" cy="782.2" r="1.7"/><circle cx="544.8" cy="789" r="1.7"/><circle cx="590.2" cy="788.7" r="2"/><circle cx="603.8" cy="791.4" r="1.7"/></g><g fill="#f040b0"><circle cx="580.1" cy="690.7" r="2"/><circle cx="580.9" cy="706.4" r="1.8"/><circle cx="585.1" cy="708.3" r="1.8"/><circle cx="563" cy="713.6" r="1.8"/><circle cx="601" cy="721.2" r="1.7"/><circle cx="586.6" cy="734.5" r="1.8"/><circle cx="609.9" cy="739.8" r="1.6"/><circle cx="540.1" cy="751.4" r="1.7"/><circle cx="544.7" cy="748.1" r="1.9"/><circle cx="551.9" cy="754.1" r="1.9"/><circle cx="587.7" cy="761.3" r="1.7"/><circle cx="592.4" cy="759.7" r="1.7"/><circle cx="565" cy="767.5" r="1.6"/><circle cx="591.3" cy="767.7" r="1.8"/><circle cx="569.6" cy="778.9" r="2"/><circle cx="559.1" cy="787.4" r="1.8"/><circle cx="575.1" cy="791.4" r="1.8"/><circle cx="595" cy="785.5" r="1.6"/></g><g fill="#2f1cee"><circle cx="594.7" cy="696.1" r="1.7"/><circle cx="567.8" cy="704.6" r="1.9"/><circle cx="588.2" cy="704.8" r="1.9"/><circle cx="593" cy="705.5" r="2"/><circle cx="567.4" cy="711.9" r="1.7"/><circle cx="583.6" cy="715.1" r="1.6"/><circle cx="592.3" cy="710.1" r="1.9"/><circle cx="609.9" cy="713.9" r="1.6"/><circle cx="543.3" cy="725.9" r="1.8"/><circle cx="592.9" cy="724.4" r="1.9"/><circle cx="602.3" cy="726.6" r="1.7"/><circle cx="565" cy="735.8" r="1.8"/><circle cx="606.1" cy="732.2" r="1.7"/><circle cx="606.7" cy="728.4" r="1.9"/><circle cx="581.2" cy="744.9" r="1.6"/><circle cx="562.7" cy="753.2" r="1.7"/><circle cx="584.2" cy="751.1" r="1.8"/><circle cx="576" cy="754.6" r="1.8"/><circle cx="609.9" cy="754.9" r="1.6"/><circle cx="580.6" cy="767" r="1.9"/><circle cx="609.2" cy="776.3" r="1.8"/><circle cx="587.7" cy="791.7" r="1.7"/></g><g fill="#e238c4"><circle cx="556.1" cy="704.9" r="1.6"/><circle cx="563.4" cy="703.4" r="1.6"/><circle cx="550" cy="726.9" r="2"/><circle cx="569.4" cy="725.5" r="2"/><circle cx="586.6" cy="721.4" r="1.7"/><circle cx="583.4" cy="730.9" r="1.7"/><circle cx="598.5" cy="736.4" r="1.7"/><circle cx="577.8" cy="745.5" r="2"/><circle cx="608.9" cy="743.4" r="1.7"/><circle cx="599" cy="747.1" r="1.6"/><circle cx="597" cy="752.3" r="1.8"/><circle cx="594.5" cy="748" r="1.8"/><circle cx="564.5" cy="763.9" r="1.7"/><circle cx="576.4" cy="764.4" r="1.8"/><circle cx="545.5" cy="770.8" r="1.7"/><circle cx="575.2" cy="773.6" r="1.8"/><circle cx="582.4" cy="772.5" r="1.7"/><circle cx="573.4" cy="777" r="1.9"/><circle cx="566.8" cy="780.7" r="1.6"/><circle cx="591.7" cy="775.5" r="2"/><circle cx="588.5" cy="775.1" r="1.8"/><circle cx="601.3" cy="774.4" r="1.6"/><circle cx="542.4" cy="791.6" r="1.6"/><circle cx="573" cy="788.9" r="1.6"/></g><g fill="#2814d4"><circle cx="558.7" cy="700.8" r="1.8"/><circle cx="595.1" cy="701.5" r="1.8"/><circle cx="553.2" cy="712.9" r="1.7"/><circle cx="549.4" cy="717.6" r="1.8"/><circle cx="587.4" cy="717.8" r="1.7"/><circle cx="603.2" cy="716.1" r="1.8"/><circle cx="584.2" cy="723.5" r="1.8"/><circle cx="589.8" cy="720.9" r="1.9"/><circle cx="545.6" cy="734.2" r="1.7"/><circle cx="540.2" cy="731.8" r="1.7"/><circle cx="550.3" cy="732.5" r="1.7"/><circle cx="572.7" cy="732.4" r="1.7"/><circle cx="541.1" cy="739.7" r="2"/><circle cx="580.1" cy="739.5" r="1.9"/><circle cx="589.8" cy="743.2" r="2"/><circle cx="596.9" cy="744.6" r="1.9"/><circle cx="602" cy="747.9" r="1.9"/><circle cx="551.6" cy="758.9" r="1.8"/><circle cx="557.2" cy="761.2" r="1.9"/><circle cx="583.7" cy="758.6" r="1.7"/><circle cx="540.1" cy="770.3" r="1.9"/><circle cx="557.8" cy="765.5" r="1.8"/><circle cx="586.7" cy="771.9" r="1.9"/><circle cx="561" cy="782.7" r="1.9"/><circle cx="584" cy="776.7" r="1.9"/><circle cx="577.7" cy="778.9" r="1.7"/><circle cx="553.3" cy="792.3" r="1.7"/><circle cx="571.8" cy="785.5" r="1.7"/><circle cx="583.3" cy="788.8" r="1.6"/><circle cx="597.6" cy="791.5" r="1.8"/><circle cx="610.5" cy="787" r="1.6"/></g><g fill="#c030dc"><circle cx="564.6" cy="707.1" r="1.9"/><circle cx="584.2" cy="700.3" r="1.7"/><circle cx="591.7" cy="718.1" r="2"/><circle cx="600.4" cy="717.9" r="1.7"/><circle cx="581.9" cy="726.7" r="1.8"/><circle cx="589.8" cy="724.2" r="1.7"/><circle cx="585.1" cy="727.3" r="1.6"/><circle cx="555.6" cy="736.8" r="1.6"/><circle cx="593.1" cy="741" r="1.6"/><circle cx="603.8" cy="745" r="1.6"/><circle cx="590.6" cy="763.2" r="1.6"/><circle cx="555.3" cy="767.8" r="1.7"/><circle cx="564.2" cy="771.4" r="2"/><circle cx="585.9" cy="767.3" r="1.9"/><circle cx="599.6" cy="771.3" r="2"/><circle cx="574.7" cy="780.7" r="1.7"/><circle cx="610.4" cy="779.4" r="1.7"/><circle cx="601" cy="789.4" r="1.9"/><circle cx="607.7" cy="785.1" r="2"/><circle cx="603.7" cy="784.3" r="1.7"/></g><g fill="#f03078"><circle cx="568.6" cy="700.1" r="1.9"/><circle cx="600" cy="724.5" r="1.7"/><circle cx="597.8" cy="728" r="1.7"/><circle cx="559.1" cy="742.9" r="1.6"/><circle cx="593" cy="744.6" r="2"/><circle cx="585.4" cy="754.4" r="1.9"/><circle cx="571.4" cy="758.9" r="1.7"/><circle cx="573.2" cy="766.1" r="2"/><circle cx="595.3" cy="771.4" r="1.9"/><circle cx="607.6" cy="789.6" r="1.7"/></g><g fill="#e82c8c"><circle cx="561.9" cy="717.9" r="2"/><circle cx="558.6" cy="714.1" r="1.7"/><circle cx="580.3" cy="723.1" r="1.9"/><circle cx="611" cy="733.8" r="1.6"/><circle cx="565.3" cy="746.5" r="1.9"/><circle cx="543" cy="763.1" r="1.8"/><circle cx="569.9" cy="773.1" r="1.8"/><circle cx="569.3" cy="768.5" r="1.8"/><circle cx="589" cy="780.9" r="1.7"/><circle cx="554.5" cy="785.3" r="1.8"/></g></g>
<use href="#fcIV" filter="url(#b20)" opacity="0.42"/>
</g>
<text x="468.3" y="599.0" font-family="Liberation Serif, serif" font-weight="bold" font-size="16.8" fill="#fff" letter-spacing="-2.1" style="font-family:'Liberation Serif',serif">I</text>
<text x="542.7" y="599.0" font-family="Liberation Serif, serif" font-weight="bold" font-size="16.8" fill="#fff" letter-spacing="-2.1" style="font-family:'Liberation Serif',serif">II</text>
<text x="469.1" y="705.9" font-family="Liberation Serif, serif" font-weight="bold" font-size="16.8" fill="#fff" letter-spacing="-2.1" style="font-family:'Liberation Serif',serif">III</text>
<text x="542.7" y="705.9" font-family="Liberation Serif, serif" font-weight="bold" font-size="16.8" fill="#fff" letter-spacing="-2.1" style="font-family:'Liberation Serif',serif">IV</text>
<rect x="595.2" y="681.5" width="5.8" height="1.4" fill="#fff"/>
<rect x="601.0" y="782.7" width="5.0" height="1.4" fill="#fff"/>
</g>
<g id="panelB">
<text x="418" y="220.9" font-size="15.4" fill="#111">B</text>
<path d="M495.6 227.2V290.6M495.6 299.8V363.3" stroke="#111" stroke-width="1.2" fill="none"/>
<path d="M495 362.7H630.8" stroke="#111" stroke-width="1.3" fill="none"/>
<line x1="492.8" y1="227.7" x2="495.6" y2="227.7" stroke="#111" stroke-width="1.1"/><text x="489.8" y="232" text-anchor="end" font-size="8.6" font-weight="bold" fill="#111" stroke="#111" stroke-width="0.3">80</text>
<line x1="492.8" y1="259.1" x2="495.6" y2="259.1" stroke="#111" stroke-width="1.1"/><text x="489.8" y="262.6" text-anchor="end" font-size="8.6" font-weight="bold" fill="#111" stroke="#111" stroke-width="0.3">70</text>
<line x1="492.8" y1="290.4" x2="495.6" y2="290.4" stroke="#111" stroke-width="1.1"/><text x="489.8" y="293.8" text-anchor="end" font-size="8.6" font-weight="bold" fill="#111" stroke="#111" stroke-width="0.3">60</text>
<line x1="492.8" y1="300.3" x2="495.6" y2="300.3" stroke="#111" stroke-width="1.1"/><text x="489.8" y="304.2" text-anchor="end" font-size="8.6" font-weight="bold" fill="#111" stroke="#111" stroke-width="0.3">3</text>
<line x1="492.8" y1="320.7" x2="495.6" y2="320.7" stroke="#111" stroke-width="1.1"/><text x="489.8" y="324.1" text-anchor="end" font-size="8.6" font-weight="bold" fill="#111" stroke="#111" stroke-width="0.3">2</text>
<line x1="492.8" y1="341.7" x2="495.6" y2="341.7" stroke="#111" stroke-width="1.1"/><text x="489.8" y="345.1" text-anchor="end" font-size="8.6" font-weight="bold" fill="#111" stroke="#111" stroke-width="0.3">1</text>
<line x1="492.8" y1="362.7" x2="495.6" y2="362.7" stroke="#111" stroke-width="1.1"/><text x="489.8" y="366.1" text-anchor="end" font-size="8.6" font-weight="bold" fill="#111" stroke="#111" stroke-width="0.3">0</text>
<rect x="501.3" y="341.7" width="22.9" height="21" fill="#b3f5e2" stroke="#111" stroke-width="1.5"/>
<line x1="512.75" y1="362.7" x2="512.75" y2="366.3" stroke="#111" stroke-width="1.2"/>
<g transform="translate(512.75,362.7) rotate(-36)"><text text-anchor="middle" font-weight="bold" fill="#111" stroke="#111" stroke-width="0.3"><tspan x="-18.2" y="7.2" font-size="9" font-style="italic">Rassf8-</tspan><tspan x="-19.9" y="17.8" font-size="8.7">over-con</tspan></text></g>
<rect x="534" y="270.3" width="23.7" height="92.4" fill="#3fe8b0" stroke="#111" stroke-width="1.5"/>
<line x1="545.85" y1="362.7" x2="545.85" y2="366.3" stroke="#111" stroke-width="1.2"/>
<g transform="translate(545.85,362.7) rotate(-36)"><text text-anchor="middle" font-weight="bold" fill="#111" stroke="#111" stroke-width="0.3"><tspan x="-18.2" y="7.2" font-size="9" font-style="italic">Rassf8-</tspan><tspan x="-19.9" y="17.8" font-size="8.7">over</tspan></text></g>
<rect x="567.5" y="341.2" width="23.3" height="21.5" fill="#00b36f" stroke="#111" stroke-width="1.5"/>
<line x1="579.15" y1="362.7" x2="579.15" y2="366.3" stroke="#111" stroke-width="1.2"/>
<g transform="translate(579.15,362.7) rotate(-36)"><text text-anchor="middle" font-weight="bold" fill="#111" stroke="#111" stroke-width="0.3"><tspan x="-18.2" y="7.2" font-size="9" font-style="italic">Rassf8-</tspan><tspan x="-19.9" y="17.8" font-size="8.7">inhibit-con</tspan></text></g>
<rect x="601" y="352.5" width="23.4" height="10.2" fill="#0a6b47" stroke="#111" stroke-width="1.5"/>
<line x1="612.7" y1="362.7" x2="612.7" y2="366.3" stroke="#111" stroke-width="1.2"/>
<g transform="translate(612.7,362.7) rotate(-36)"><text text-anchor="middle" font-weight="bold" fill="#111" stroke="#111" stroke-width="0.3"><tspan x="-18.2" y="7.2" font-size="9" font-style="italic">Rassf8-</tspan><tspan x="-19.9" y="17.8" font-size="8.7">inhibit</tspan></text></g>
<rect x="531" y="290.5" width="30" height="9.4" fill="#fff"/>
<path d="M545.8 270.3V251.6M539.4 251.6H552.3" stroke="#111" stroke-width="1.6" fill="none"/><path d="M501.3 342H524.2" stroke="#111" stroke-width="2" fill="none"/>
<path d="M572.6 339.4H585.8" stroke="#111" stroke-width="2" fill="none"/>
<path d="M606.2 350.9H619.4" stroke="#111" stroke-width="1.8" fill="none"/>
<text x="545.6" y="250.9" text-anchor="middle" font-size="13" fill="#111" stroke="#111" stroke-width="0.45">**</text>
<text x="613.2" y="351.3" text-anchor="middle" font-size="13" fill="#111" stroke="#111" stroke-width="0.45">**</text>
<text transform="translate(455.7,289) rotate(-90)" text-anchor="middle" font-size="9.8" font-weight="bold" font-style="italic" fill="#111" stroke="#111" stroke-width="0.25">Rassf8</text>
<text transform="translate(466.1,289) rotate(-90)" text-anchor="middle" font-size="8.65" font-weight="bold" fill="#111" stroke="#111" stroke-width="0.25">(Relative mRNA expression level)</text>
</g>
<g id="panelD">
<text x="426.2" y="409.9" font-size="15.4" fill="#111">D</text>
<path d="M496.6 409.4V521" stroke="#111" stroke-width="1.2" fill="none"/>
<path d="M496 520.5H621.6" stroke="#111" stroke-width="1.3" fill="none"/>
<line x1="493.9" y1="409.8" x2="496.6" y2="409.8" stroke="#111" stroke-width="1.1"/><text x="488.6" y="413.2" text-anchor="end" font-size="8.6" font-weight="bold" fill="#111" stroke="#111" stroke-width="0.3">2.0</text>
<line x1="493.9" y1="437.6" x2="496.6" y2="437.6" stroke="#111" stroke-width="1.1"/><text x="488.6" y="441" text-anchor="end" font-size="8.6" font-weight="bold" fill="#111" stroke="#111" stroke-width="0.3">1.5</text>
<line x1="493.9" y1="465.6" x2="496.6" y2="465.6" stroke="#111" stroke-width="1.1"/><text x="488.6" y="469" text-anchor="end" font-size="8.6" font-weight="bold" fill="#111" stroke="#111" stroke-width="0.3">1.0</text>
<line x1="493.9" y1="493.2" x2="496.6" y2="493.2" stroke="#111" stroke-width="1.1"/><text x="488.6" y="496.6" text-anchor="end" font-size="8.6" font-weight="bold" fill="#111" stroke="#111" stroke-width="0.3">0.5</text>
<line x1="493.9" y1="520.5" x2="496.6" y2="520.5" stroke="#111" stroke-width="1.1"/><text x="488.6" y="523.9" text-anchor="end" font-size="8.6" font-weight="bold" fill="#111" stroke="#111" stroke-width="0.3">0</text>
<rect x="502" y="471.3" width="21" height="49.2" fill="#fff" stroke="#111" stroke-width="1.5"/>
<line x1="512.5" y1="520.5" x2="512.5" y2="524.0" stroke="#111" stroke-width="1.2"/>
<g transform="translate(512.5,520.5) rotate(-38)"><text text-anchor="end" font-weight="bold" fill="#111" stroke="#111" stroke-width="0.3"><tspan x="-5.7" y="7" font-size="9" font-style="italic">Rassf8-</tspan><tspan x="-5.2" y="16.6" font-size="8.9">over-con</tspan></text></g>
<rect x="533.1" y="434" width="21.1" height="86.5" fill="#000" stroke="#111" stroke-width="1.5"/>
<line x1="543.65" y1="520.5" x2="543.65" y2="524.0" stroke="#111" stroke-width="1.2"/>
<g transform="translate(543.65,520.5) rotate(-38)"><text text-anchor="end" font-weight="bold" fill="#111" stroke="#111" stroke-width="0.3"><tspan x="-5.7" y="7" font-size="9" font-style="italic">Rassf8-</tspan><tspan x="-5.2" y="16.6" font-size="8.9">over</tspan></text></g>
<rect x="564.4" y="471.6" width="21.2" height="48.9" fill="#fff" stroke="#111" stroke-width="1.5"/>
<line x1="575" y1="520.5" x2="575" y2="524.0" stroke="#111" stroke-width="1.2"/>
<g transform="translate(575,520.5) rotate(-38)"><text text-anchor="end" font-weight="bold" fill="#111" stroke="#111" stroke-width="0.3"><tspan x="-5.7" y="7" font-size="9" font-style="italic">Rassf8-</tspan><tspan x="-5.2" y="16.6" font-size="8.9">inhibit-con</tspan></text></g>
<rect x="595.5" y="496.8" width="21.3" height="23.7" fill="#000" stroke="#111" stroke-width="1.5"/>
<line x1="606.15" y1="520.5" x2="606.15" y2="524.0" stroke="#111" stroke-width="1.2"/>
<g transform="translate(606.15,520.5) rotate(-38)"><text text-anchor="end" font-weight="bold" fill="#111" stroke="#111" stroke-width="0.3"><tspan x="-5.7" y="7" font-size="9" font-style="italic">Rassf8-</tspan><tspan x="-5.2" y="16.6" font-size="8.9">inhibit</tspan></text></g>
<path d="M512.5 471.3V468.7M506.6 468.7H518.4" stroke="#111" stroke-width="1.2" fill="none"/>
<path d="M543.6 434V429.6M537.8 429.6H549.6" stroke="#111" stroke-width="1.3" fill="none"/>
<path d="M569.4 470.9H580.8" stroke="#111" stroke-width="1.2" fill="none"/>
<path d="M600.4 495.6H612" stroke="#111" stroke-width="1.6" fill="none"/>
<text x="543" y="428.9" text-anchor="middle" font-size="13" fill="#111" stroke="#111" stroke-width="0.45">**</text>
<text x="605.8" y="495.9" text-anchor="middle" font-size="13" fill="#111" stroke="#111" stroke-width="0.45">**</text>
<text transform="translate(457.3,471.3) rotate(-90)" text-anchor="middle" font-size="9.8" font-weight="bold" font-style="italic" fill="#111" stroke="#111" stroke-width="0.25">Rassf8</text>
<text transform="translate(467.6,473.2) rotate(-90)" text-anchor="middle" font-size="8.95" font-weight="bold" fill="#111" stroke="#111" stroke-width="0.25">(Relative protein expression level)</text>
</g>
<g id="panelE">
<text x="187" y="573.4" font-size="15.4" fill="#111">E</text>
<path d="M239.4 572.1V677.9" stroke="#111" stroke-width="1.2" fill="none"/>
<path d="M236.1 677.4H390.8" stroke="#111" stroke-width="1.3" fill="none"/>
<line x1="236.2" y1="572.6" x2="239.4" y2="572.6" stroke="#111" stroke-width="1.1"/><text x="232.3" y="575.2" text-anchor="end" font-size="8.6" font-weight="bold" fill="#111" stroke="#111" stroke-width="0.3">1.0</text>
<line x1="236.2" y1="593.8" x2="239.4" y2="593.8" stroke="#111" stroke-width="1.1"/><text x="232.3" y="596.9" text-anchor="end" font-size="8.6" font-weight="bold" fill="#111" stroke="#111" stroke-width="0.3">0.8</text>
<line x1="236.2" y1="614.6" x2="239.4" y2="614.6" stroke="#111" stroke-width="1.1"/><text x="232.3" y="618" text-anchor="end" font-size="8.6" font-weight="bold" fill="#111" stroke="#111" stroke-width="0.3">0.6</text>
<line x1="236.2" y1="635.4" x2="239.4" y2="635.4" stroke="#111" stroke-width="1.1"/><text x="232.3" y="638.8" text-anchor="end" font-size="8.6" font-weight="bold" fill="#111" stroke="#111" stroke-width="0.3">0.4</text>
<line x1="236.2" y1="656.4" x2="239.4" y2="656.4" stroke="#111" stroke-width="1.1"/><text x="232.3" y="659.8" text-anchor="end" font-size="8.6" font-weight="bold" fill="#111" stroke="#111" stroke-width="0.3">0.2</text>
<text x="228.8" y="679.2" text-anchor="end" font-size="8.6" font-weight="bold" fill="#111" stroke="#111" stroke-width="0.3">0</text>
<text transform="translate(215.8,623.3) rotate(-90)" text-anchor="middle" font-size="8.9" font-weight="bold" fill="#111" stroke="#111" stroke-width="0.25">optical density values</text>
<line x1="258.8" y1="677.3" x2="258.8" y2="680.9" stroke="#111" stroke-width="1.2"/>
<g transform="translate(258.8,677.3) rotate(-29)"><text text-anchor="end" font-weight="bold" fill="#111" stroke="#111" stroke-width="0.3"><tspan x="-4.1" y="8" font-size="9.2" font-style="italic">Rassf8-</tspan><tspan x="-5.5" y="19.3" font-size="8.8">over-con</tspan></text></g>
<g fill="#f01818"><circle cx="258.7" cy="593.3" r="1.3"/><circle cx="256" cy="596.8" r="1.3"/><circle cx="260.9" cy="596.8" r="1.3"/><circle cx="254.1" cy="600.8" r="1.3"/><circle cx="258.2" cy="600.3" r="1.3"/><circle cx="262.2" cy="600.8" r="1.3"/><circle cx="251.6" cy="603.4" r="1.3"/><circle cx="254.4" cy="603.7" r="1.3"/><circle cx="257.2" cy="603.3" r="1.3"/><circle cx="260" cy="603.7" r="1.3"/><circle cx="262.8" cy="603.4" r="1.3"/><circle cx="265.8" cy="603.2" r="1.3"/><circle cx="253.3" cy="606.8" r="1.3"/><circle cx="258.2" cy="606.8" r="1.3"/><circle cx="263" cy="606.6" r="1.3"/><circle cx="255.5" cy="610.3" r="1.3"/><circle cx="260.9" cy="610.1" r="1.3"/><circle cx="258.7" cy="613.8" r="1.3"/></g>
<line x1="246.1" y1="603.5" x2="271.5" y2="603.5" stroke="#111" stroke-width="1.1"/>
<line x1="296.5" y1="677.3" x2="296.5" y2="680.9" stroke="#111" stroke-width="1.2"/>
<g transform="translate(296.5,677.3) rotate(-29)"><text text-anchor="end" font-weight="bold" fill="#111" stroke="#111" stroke-width="0.3"><tspan x="-4.1" y="8" font-size="9.2" font-style="italic">Rassf8-</tspan><tspan x="-5.5" y="19.3" font-size="8.8">over</tspan></text></g>
<g fill="#18c018"><circle cx="285.5" cy="632.6" r="1.3"/><circle cx="288.2" cy="633.2" r="1.3"/><circle cx="290.9" cy="632.5" r="1.3"/><circle cx="293.6" cy="633.1" r="1.3"/><circle cx="296.3" cy="632.4" r="1.3"/><circle cx="299" cy="633.1" r="1.3"/><circle cx="301.7" cy="632.5" r="1.3"/><circle cx="304.4" cy="633.2" r="1.3"/><circle cx="307" cy="632.7" r="1.3"/><circle cx="296.3" cy="630.6" r="1.3"/><circle cx="291" cy="635.2" r="1.3"/><circle cx="302" cy="635" r="1.3"/><circle cx="293.6" cy="636.8" r="1.3"/><circle cx="299.5" cy="638" r="1.3"/><circle cx="296.3" cy="639.6" r="1.3"/></g>
<line x1="283.8" y1="634" x2="309.2" y2="634" stroke="#111" stroke-width="1.1"/>
<line x1="334.8" y1="677.3" x2="334.8" y2="680.9" stroke="#111" stroke-width="1.2"/>
<g transform="translate(334.8,677.3) rotate(-29)"><text text-anchor="end" font-weight="bold" fill="#111" stroke="#111" stroke-width="0.3"><tspan x="-4.1" y="8" font-size="9.2" font-style="italic">Rassf8-</tspan><tspan x="-5.5" y="19.3" font-size="8.8">inhibit-con</tspan></text></g>
<g fill="#1a1ab8"><circle cx="331.5" cy="600.2" r="1.3"/><circle cx="331.3" cy="602.4" r="1.3"/><circle cx="334" cy="601.8" r="1.3"/><circle cx="337.5" cy="602.4" r="1.3"/><circle cx="341" cy="601.6" r="1.3"/><circle cx="328.5" cy="607.2" r="1.3"/><circle cx="331.1" cy="607.5" r="1.3"/><circle cx="333.7" cy="607.1" r="1.3"/><circle cx="336.3" cy="607.5" r="1.3"/><circle cx="338.9" cy="607.1" r="1.3"/><circle cx="341.5" cy="607.4" r="1.3"/><circle cx="332" cy="609.6" r="1.3"/><circle cx="335.5" cy="609.8" r="1.3"/><circle cx="339" cy="609.4" r="1.3"/><circle cx="331.3" cy="613.8" r="1.3"/><circle cx="334.5" cy="615.8" r="1.3"/><circle cx="337.7" cy="614.2" r="1.3"/><circle cx="340.9" cy="612.6" r="1.3"/></g>
<line x1="322.1" y1="607.3" x2="347.5" y2="607.3" stroke="#111" stroke-width="1.1"/>
<line x1="372.6" y1="677.3" x2="372.6" y2="680.9" stroke="#111" stroke-width="1.2"/>
<g transform="translate(372.6,677.3) rotate(-29)"><text text-anchor="end" font-weight="bold" fill="#111" stroke="#111" stroke-width="0.3"><tspan x="-4.1" y="8" font-size="9.2" font-style="italic">Rassf8-</tspan><tspan x="-5.5" y="19.3" font-size="8.8">inhibit</tspan></text></g>
<g fill="#f0187c"><circle cx="378.6" cy="583.6" r="1.3"/><circle cx="366.4" cy="585.8" r="1.3"/><circle cx="369.6" cy="585.4" r="1.3"/><circle cx="372.8" cy="585.8" r="1.3"/><circle cx="376" cy="585.2" r="1.3"/><circle cx="365.5" cy="588.7" r="1.3"/><circle cx="368.2" cy="588.4" r="1.3"/><circle cx="370.9" cy="588.8" r="1.3"/><circle cx="373.6" cy="588.4" r="1.3"/><circle cx="376.3" cy="588.8" r="1.3"/><circle cx="379" cy="588.5" r="1.3"/><circle cx="369.5" cy="593.5" r="1.3"/><circle cx="372.7" cy="592.7" r="1.3"/><circle cx="376" cy="592" r="1.3"/><circle cx="372" cy="597.4" r="1.3"/><circle cx="375.2" cy="595.8" r="1.3"/></g>
<line x1="359.9" y1="589" x2="385.3" y2="589" stroke="#111" stroke-width="1.1"/>
<text x="296.4" y="627.3" text-anchor="middle" font-size="13" fill="#111" stroke="#111" stroke-width="0.45">**</text>
<text x="370.4" y="580.9" text-anchor="middle" font-size="13" fill="#111" stroke="#111" stroke-width="0.45">**</text>
</g>
<g id="panelG">
<text x="186" y="728.6" font-size="15.4" fill="#111">G</text>
<path d="M239.1 732V839.6" stroke="#2c2c2c" stroke-width="1.7" fill="none"/>
<path d="M236 838.9H393.6" stroke="#2c2c2c" stroke-width="1.7" fill="none"/>
<line x1="236.6" y1="732.5" x2="239.1" y2="732.5" stroke="#111" stroke-width="1.1"/><text x="234.7" y="735.3" text-anchor="end" font-size="8.6" font-weight="bold" fill="#111" stroke="#111" stroke-width="0.3">150</text>
<line x1="236.6" y1="767.8" x2="239.1" y2="767.8" stroke="#111" stroke-width="1.1"/><text x="234.7" y="770.6" text-anchor="end" font-size="8.6" font-weight="bold" fill="#111" stroke="#111" stroke-width="0.3">100</text>
<line x1="236.6" y1="803.3" x2="239.1" y2="803.3" stroke="#111" stroke-width="1.1"/><text x="234.7" y="806.1" text-anchor="end" font-size="8.6" font-weight="bold" fill="#111" stroke="#111" stroke-width="0.3">50</text>
<line x1="239.1" y1="838.9" x2="239.1" y2="838.9" stroke="#111" stroke-width="1.1"/><text x="233.4" y="842.2" text-anchor="end" font-size="8.6" font-weight="bold" fill="#111" stroke="#111" stroke-width="0.3">0</text>
<text transform="translate(214.9,785.6) rotate(-90)" text-anchor="middle" font-size="8.9" font-weight="bold" fill="#111" stroke="#111" stroke-width="0.25">EdU postive cells(100%)</text>
<line x1="258.8" y1="838.8" x2="258.8" y2="842.3" stroke="#2c2c2c" stroke-width="1.2"/>
<g transform="translate(258.8,838.8) rotate(-29)"><text text-anchor="end" font-weight="bold" fill="#111" stroke="#111" stroke-width="0.3"><tspan x="-4.1" y="8" font-size="9.2" font-style="italic">Rassf8-</tspan><tspan x="-5.5" y="19.3" font-size="8.8">over-con</tspan></text></g>
<path d="M258.9 798.7V802.7M252.3 802.7H265.5" stroke="#111" stroke-width="1.2" fill="none"/>
<rect x="246" y="789.7" width="25.8" height="9" fill="#fde3e3" stroke="#111" stroke-width="1.3"/>
<line x1="246" y1="793.3" x2="271.8" y2="793.3" stroke="#111" stroke-width="1.2"/>
<line x1="297.5" y1="838.8" x2="297.5" y2="842.3" stroke="#2c2c2c" stroke-width="1.2"/>
<g transform="translate(297.5,838.8) rotate(-29)"><text text-anchor="end" font-weight="bold" fill="#111" stroke="#111" stroke-width="0.3"><tspan x="-4.1" y="8" font-size="9.2" font-style="italic">Rassf8-</tspan><tspan x="-5.5" y="19.3" font-size="8.8">over</tspan></text></g>
<path d="M297.7 798V789.7M291.1 789.7H304.3M297.7 807.6V810M291.1 810H304.3" stroke="#111" stroke-width="1.2" fill="none"/>
<rect x="284.6" y="798" width="26.2" height="9.6" fill="#f58383" stroke="#111" stroke-width="1.3"/>
<line x1="284.6" y1="804.7" x2="310.8" y2="804.7" stroke="#111" stroke-width="1.2"/>
<line x1="335.6" y1="838.8" x2="335.6" y2="842.3" stroke="#2c2c2c" stroke-width="1.2"/>
<g transform="translate(335.6,838.8) rotate(-29)"><text text-anchor="end" font-weight="bold" fill="#111" stroke="#111" stroke-width="0.3"><tspan x="-4.1" y="8" font-size="9.2" font-style="italic">Rassf8-</tspan><tspan x="-5.5" y="19.3" font-size="8.8">inhibit-con</tspan></text></g>
<path d="M335.75 795.3V786.4M329.15 786.4H342.35M335.75 805.4V810M329.15 810H342.35" stroke="#111" stroke-width="1.2" fill="none"/>
<rect x="322.9" y="795.3" width="25.7" height="10.1" fill="#f00a0a" stroke="#111" stroke-width="1.3"/>
<line x1="322.9" y1="802.4" x2="348.6" y2="802.4" stroke="#111" stroke-width="1.2"/>
<line x1="374.5" y1="838.8" x2="374.5" y2="842.3" stroke="#2c2c2c" stroke-width="1.2"/>
<g transform="translate(374.5,838.8) rotate(-29)"><text text-anchor="end" font-weight="bold" fill="#111" stroke="#111" stroke-width="0.3"><tspan x="-4.1" y="8" font-size="9.2" font-style="italic">Rassf8-</tspan><tspan x="-5.5" y="19.3" font-size="8.8">inhibit</tspan></text></g>
<path d="M374.5 772.2V769M367.9 769H381.1M374.5 788.4V793.8M367.9 793.8H381.1" stroke="#111" stroke-width="1.2" fill="none"/>
<rect x="361.4" y="772.2" width="26.2" height="16.2" fill="#dcaaaa" stroke="#111" stroke-width="1.3"/>
<line x1="361.4" y1="783.6" x2="387.6" y2="783.6" stroke="#111" stroke-width="1.2"/>
<text x="297.4" y="791.3" text-anchor="middle" font-size="13" fill="#111" stroke="#111" stroke-width="0.45">**</text>
<text x="374.6" y="769.7" text-anchor="middle" font-size="13" fill="#111" stroke="#111" stroke-width="0.45">**</text>
</g>
<g id="rules"><rect x="79" y="61.4" width="659.8" height="2.1" fill="#188d8a"/><rect x="79" y="984.05" width="661.6" height="1" fill="#111"/><rect x="79" y="1001.2" width="659.8" height="2.05" fill="#188d8a"/></g>
</svg>
</body></html>
